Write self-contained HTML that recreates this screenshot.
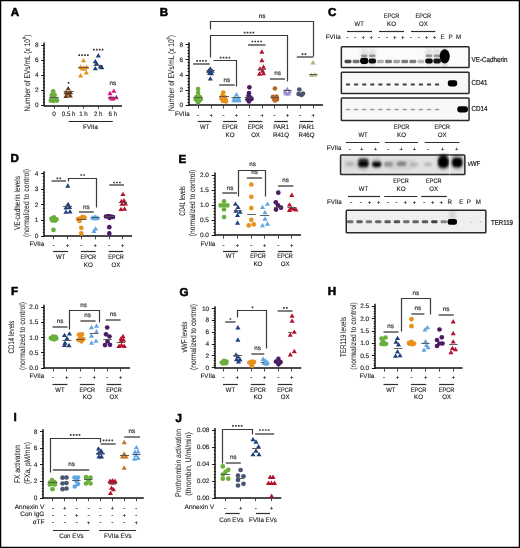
<!DOCTYPE html>
<html><head><meta charset="utf-8"><style>
html,body{margin:0;padding:0;background:#fff;width:520px;height:548px;overflow:hidden}
svg{display:block;font-family:"Liberation Sans", sans-serif}
text{opacity:0.999;text-rendering:geometricPrecision}
</style></head><body>
<svg width="520" height="548" viewBox="0 0 520 548" font-family='"Liberation Sans", sans-serif'>
<defs><filter id="bl" x="-50%" y="-50%" width="200%" height="200%"><feGaussianBlur stdDeviation="0.7"/></filter><filter id="bl2" x="-50%" y="-50%" width="200%" height="200%"><feGaussianBlur stdDeviation="1.4"/></filter><filter id="bl3" x="-50%" y="-50%" width="200%" height="200%"><feGaussianBlur stdDeviation="1.05"/></filter></defs>
<rect width="520" height="548" fill="#fff"/>
<text font-size="11.6" text-anchor="start" dominant-baseline="central" fill="#000" stroke="#000" stroke-width="0.55" font-weight="bold" x="0" y="0" transform="translate(10.70 12.55)" >A</text>
<line x1="44.00" y1="106.20" x2="44.00" y2="42.50" stroke="#111" stroke-width="1.5"/>
<line x1="41.20" y1="105.50" x2="44.50" y2="105.50" stroke="#111" stroke-width="1.0"/>
<text font-size="6.5" text-anchor="end" dominant-baseline="central" fill="#1a1a1a" stroke="#1a1a1a" stroke-width="0.13" x="0" y="0" transform="translate(38.50 105.90)" >0</text>
<line x1="41.20" y1="90.50" x2="44.50" y2="90.50" stroke="#111" stroke-width="1.0"/>
<text font-size="6.5" text-anchor="end" dominant-baseline="central" fill="#1a1a1a" stroke="#1a1a1a" stroke-width="0.13" x="0" y="0" transform="translate(38.50 90.77)" >2</text>
<line x1="41.20" y1="75.50" x2="44.50" y2="75.50" stroke="#111" stroke-width="1.0"/>
<text font-size="6.5" text-anchor="end" dominant-baseline="central" fill="#1a1a1a" stroke="#1a1a1a" stroke-width="0.13" x="0" y="0" transform="translate(38.50 75.65)" >4</text>
<line x1="41.20" y1="60.50" x2="44.50" y2="60.50" stroke="#111" stroke-width="1.0"/>
<text font-size="6.5" text-anchor="end" dominant-baseline="central" fill="#1a1a1a" stroke="#1a1a1a" stroke-width="0.13" x="0" y="0" transform="translate(38.50 60.52)" >6</text>
<line x1="41.20" y1="45.50" x2="44.50" y2="45.50" stroke="#111" stroke-width="1.0"/>
<text font-size="6.5" text-anchor="end" dominant-baseline="central" fill="#1a1a1a" stroke="#1a1a1a" stroke-width="0.13" x="0" y="0" transform="translate(38.50 45.40)" >8</text>
<line x1="42.90" y1="102.50" x2="44.50" y2="102.50" stroke="#111" stroke-width="0.8"/>
<line x1="42.90" y1="99.50" x2="44.50" y2="99.50" stroke="#111" stroke-width="0.8"/>
<line x1="42.90" y1="96.50" x2="44.50" y2="96.50" stroke="#111" stroke-width="0.8"/>
<line x1="42.90" y1="93.50" x2="44.50" y2="93.50" stroke="#111" stroke-width="0.8"/>
<line x1="42.90" y1="87.50" x2="44.50" y2="87.50" stroke="#111" stroke-width="0.8"/>
<line x1="42.90" y1="84.50" x2="44.50" y2="84.50" stroke="#111" stroke-width="0.8"/>
<line x1="42.90" y1="81.50" x2="44.50" y2="81.50" stroke="#111" stroke-width="0.8"/>
<line x1="42.90" y1="78.50" x2="44.50" y2="78.50" stroke="#111" stroke-width="0.8"/>
<line x1="42.90" y1="72.50" x2="44.50" y2="72.50" stroke="#111" stroke-width="0.8"/>
<line x1="42.90" y1="69.50" x2="44.50" y2="69.50" stroke="#111" stroke-width="0.8"/>
<line x1="42.90" y1="66.50" x2="44.50" y2="66.50" stroke="#111" stroke-width="0.8"/>
<line x1="42.90" y1="63.50" x2="44.50" y2="63.50" stroke="#111" stroke-width="0.8"/>
<line x1="42.90" y1="57.50" x2="44.50" y2="57.50" stroke="#111" stroke-width="0.8"/>
<line x1="42.90" y1="54.50" x2="44.50" y2="54.50" stroke="#111" stroke-width="0.8"/>
<line x1="42.90" y1="51.50" x2="44.50" y2="51.50" stroke="#111" stroke-width="0.8"/>
<line x1="42.90" y1="48.50" x2="44.50" y2="48.50" stroke="#111" stroke-width="0.8"/>
<line x1="44.00" y1="106.00" x2="122.00" y2="106.00" stroke="#111" stroke-width="1.4"/>
<line x1="54.50" y1="105.50" x2="54.50" y2="108.80" stroke="#333" stroke-width="0.9"/>
<line x1="68.50" y1="105.50" x2="68.50" y2="108.80" stroke="#333" stroke-width="0.9"/>
<line x1="83.50" y1="105.50" x2="83.50" y2="108.80" stroke="#333" stroke-width="0.9"/>
<line x1="98.50" y1="105.50" x2="98.50" y2="108.80" stroke="#333" stroke-width="0.9"/>
<line x1="112.50" y1="105.50" x2="112.50" y2="108.80" stroke="#333" stroke-width="0.9"/>
<text font-size="6.5" text-anchor="middle" dominant-baseline="central" fill="#1a1a1a" stroke="#1a1a1a" stroke-width="0.13" x="0" y="0" transform="translate(54.00 114.70)" >0</text>
<text font-size="6.5" text-anchor="middle" dominant-baseline="central" fill="#1a1a1a" stroke="#1a1a1a" stroke-width="0.13" x="0" y="0" transform="translate(68.60 114.70) scale(0.95 1)" >0.5 h</text>
<text font-size="6.5" text-anchor="middle" dominant-baseline="central" fill="#1a1a1a" stroke="#1a1a1a" stroke-width="0.13" x="0" y="0" transform="translate(83.50 114.70) scale(0.95 1)" >1 h</text>
<text font-size="6.5" text-anchor="middle" dominant-baseline="central" fill="#1a1a1a" stroke="#1a1a1a" stroke-width="0.13" x="0" y="0" transform="translate(98.20 114.70) scale(0.95 1)" >2 h</text>
<text font-size="6.5" text-anchor="middle" dominant-baseline="central" fill="#1a1a1a" stroke="#1a1a1a" stroke-width="0.13" x="0" y="0" transform="translate(112.80 114.70) scale(0.95 1)" >6 h</text>
<line x1="68.60" y1="121.50" x2="112.80" y2="121.50" stroke="#222" stroke-width="1.1"/>
<text font-size="6.5" text-anchor="middle" dominant-baseline="central" fill="#1a1a1a" stroke="#1a1a1a" stroke-width="0.13" x="0" y="0" transform="translate(90.50 127.30) scale(0.95 1)" >FVIIa</text>
<text font-size="8.2" text-anchor="middle" dominant-baseline="central" fill="#1e1e1e" stroke="#1e1e1e" stroke-width="0.06" x="0" y="0" transform="translate(27.30 73) rotate(-90) scale(0.8117225384777567 1)" >Number of EVs/mL (x 10<tspan dy="-2" font-size="5">8</tspan><tspan dy="2">)</tspan></text>
<circle cx="53.20" cy="91.30" r="2.35" fill="#6aaf3d"/>
<circle cx="51.80" cy="95.00" r="2.35" fill="#6aaf3d"/>
<circle cx="54.70" cy="95.00" r="2.35" fill="#6aaf3d"/>
<circle cx="51.50" cy="99.50" r="2.35" fill="#6aaf3d"/>
<circle cx="54.00" cy="99.50" r="2.35" fill="#6aaf3d"/>
<circle cx="56.50" cy="99.50" r="2.35" fill="#6aaf3d"/>
<circle cx="50.80" cy="100.60" r="2.35" fill="#6aaf3d"/>
<circle cx="53.50" cy="100.80" r="2.35" fill="#6aaf3d"/>
<circle cx="57.00" cy="100.60" r="2.35" fill="#6aaf3d"/>
<line x1="49.20" y1="97.50" x2="58.70" y2="97.50" stroke="#505050" stroke-width="0.9"/>
<path d="M68.20,85.99L70.75,90.37L65.65,90.37Z" fill="#6b3a10"/>
<path d="M66.00,89.89L68.55,94.27L63.45,94.27Z" fill="#6b3a10"/>
<path d="M70.60,89.89L73.15,94.27L68.05,94.27Z" fill="#6b3a10"/>
<path d="M68.20,91.09L70.75,95.47L65.65,95.47Z" fill="#6b3a10"/>
<path d="M66.00,93.59L68.55,97.97L63.45,97.97Z" fill="#6b3a10"/>
<path d="M70.30,93.19L72.85,97.57L67.75,97.57Z" fill="#6b3a10"/>
<line x1="63.60" y1="91.50" x2="73.70" y2="91.50" stroke="#505050" stroke-width="0.9"/>
<path d="M83.50,57.89L86.05,62.27L80.95,62.27Z" fill="#e8901e"/>
<path d="M80.60,64.59L83.15,68.97L78.05,68.97Z" fill="#e8901e"/>
<path d="M83.50,65.19L86.05,69.57L80.95,69.57Z" fill="#e8901e"/>
<path d="M86.50,64.59L89.05,68.97L83.95,68.97Z" fill="#e8901e"/>
<path d="M82.20,66.19L84.75,70.57L79.65,70.57Z" fill="#e8901e"/>
<path d="M84.80,66.19L87.35,70.57L82.25,70.57Z" fill="#e8901e"/>
<path d="M86.30,70.09L88.85,74.47L83.75,74.47Z" fill="#e8901e"/>
<path d="M80.60,73.09L83.15,77.47L78.05,77.47Z" fill="#e8901e"/>
<line x1="78.30" y1="67.50" x2="88.80" y2="67.50" stroke="#505050" stroke-width="0.9"/>
<path d="M98.30,53.09L100.85,57.47L95.75,57.47Z" fill="#1f3f7d"/>
<path d="M95.30,58.99L97.85,63.37L92.75,63.37Z" fill="#1f3f7d"/>
<path d="M96.60,60.99L99.15,65.37L94.05,65.37Z" fill="#1f3f7d"/>
<path d="M95.30,65.89L97.85,70.27L92.75,70.27Z" fill="#1f3f7d"/>
<path d="M100.20,64.19L102.75,68.57L97.65,68.57Z" fill="#1f3f7d"/>
<path d="M101.80,64.79L104.35,69.17L99.25,69.17Z" fill="#1f3f7d"/>
<line x1="93.40" y1="65.50" x2="102.90" y2="65.50" stroke="#505050" stroke-width="0.9"/>
<path d="M113.80,88.39L116.35,92.77L111.25,92.77Z" fill="#d6197f"/>
<path d="M110.00,90.79L112.55,95.17L107.45,95.17Z" fill="#d6197f"/>
<path d="M110.50,95.19L113.05,99.57L107.95,99.57Z" fill="#d6197f"/>
<path d="M113.20,95.79L115.75,100.17L110.65,100.17Z" fill="#d6197f"/>
<path d="M116.30,94.79L118.85,99.17L113.75,99.17Z" fill="#d6197f"/>
<path d="M112.00,96.19L114.55,100.57L109.45,100.57Z" fill="#d6197f"/>
<line x1="107.80" y1="97.50" x2="117.80" y2="97.50" stroke="#505050" stroke-width="0.9"/>
<rect x="67.75" y="81.95" width="1.7" height="1.7" rx="0.3" fill="#333"/>
<rect x="78.30" y="54.25" width="1.7" height="1.7" rx="0.3" fill="#333"/>
<rect x="81.20" y="54.25" width="1.7" height="1.7" rx="0.3" fill="#333"/>
<rect x="84.10" y="54.25" width="1.7" height="1.7" rx="0.3" fill="#333"/>
<rect x="87.00" y="54.25" width="1.7" height="1.7" rx="0.3" fill="#333"/>
<rect x="93.00" y="48.75" width="1.7" height="1.7" rx="0.3" fill="#333"/>
<rect x="95.90" y="48.75" width="1.7" height="1.7" rx="0.3" fill="#333"/>
<rect x="98.80" y="48.75" width="1.7" height="1.7" rx="0.3" fill="#333"/>
<rect x="101.70" y="48.75" width="1.7" height="1.7" rx="0.3" fill="#333"/>
<text font-size="6.3" text-anchor="middle" dominant-baseline="central" fill="#2a2a2a" stroke="#2a2a2a" stroke-width="0.16" x="0" y="0" transform="translate(112.80 83.50)" >ns</text>
<text font-size="11.6" text-anchor="start" dominant-baseline="central" fill="#000" stroke="#000" stroke-width="0.55" font-weight="bold" x="0" y="0" transform="translate(159.85 12.55)" >B</text>
<line x1="189.00" y1="105.90" x2="189.00" y2="42.30" stroke="#111" stroke-width="1.5"/>
<line x1="185.70" y1="105.50" x2="189.00" y2="105.50" stroke="#111" stroke-width="1.0"/>
<text font-size="6.5" text-anchor="end" dominant-baseline="central" fill="#1a1a1a" stroke="#1a1a1a" stroke-width="0.13" x="0" y="0" transform="translate(183.00 105.60)" >0</text>
<line x1="185.70" y1="90.50" x2="189.00" y2="90.50" stroke="#111" stroke-width="1.0"/>
<text font-size="6.5" text-anchor="end" dominant-baseline="central" fill="#1a1a1a" stroke="#1a1a1a" stroke-width="0.13" x="0" y="0" transform="translate(183.00 90.50)" >2</text>
<line x1="185.70" y1="75.50" x2="189.00" y2="75.50" stroke="#111" stroke-width="1.0"/>
<text font-size="6.5" text-anchor="end" dominant-baseline="central" fill="#1a1a1a" stroke="#1a1a1a" stroke-width="0.13" x="0" y="0" transform="translate(183.00 75.40)" >4</text>
<line x1="185.70" y1="59.50" x2="189.00" y2="59.50" stroke="#111" stroke-width="1.0"/>
<text font-size="6.5" text-anchor="end" dominant-baseline="central" fill="#1a1a1a" stroke="#1a1a1a" stroke-width="0.13" x="0" y="0" transform="translate(183.00 60.30)" >6</text>
<line x1="185.70" y1="44.50" x2="189.00" y2="44.50" stroke="#111" stroke-width="1.0"/>
<text font-size="6.5" text-anchor="end" dominant-baseline="central" fill="#1a1a1a" stroke="#1a1a1a" stroke-width="0.13" x="0" y="0" transform="translate(183.00 45.20)" >8</text>
<line x1="187.40" y1="102.50" x2="189.00" y2="102.50" stroke="#111" stroke-width="0.8"/>
<line x1="187.40" y1="99.50" x2="189.00" y2="99.50" stroke="#111" stroke-width="0.8"/>
<line x1="187.40" y1="96.50" x2="189.00" y2="96.50" stroke="#111" stroke-width="0.8"/>
<line x1="187.40" y1="93.50" x2="189.00" y2="93.50" stroke="#111" stroke-width="0.8"/>
<line x1="187.40" y1="87.50" x2="189.00" y2="87.50" stroke="#111" stroke-width="0.8"/>
<line x1="187.40" y1="84.50" x2="189.00" y2="84.50" stroke="#111" stroke-width="0.8"/>
<line x1="187.40" y1="81.50" x2="189.00" y2="81.50" stroke="#111" stroke-width="0.8"/>
<line x1="187.40" y1="78.50" x2="189.00" y2="78.50" stroke="#111" stroke-width="0.8"/>
<line x1="187.40" y1="71.50" x2="189.00" y2="71.50" stroke="#111" stroke-width="0.8"/>
<line x1="187.40" y1="68.50" x2="189.00" y2="68.50" stroke="#111" stroke-width="0.8"/>
<line x1="187.40" y1="65.50" x2="189.00" y2="65.50" stroke="#111" stroke-width="0.8"/>
<line x1="187.40" y1="62.50" x2="189.00" y2="62.50" stroke="#111" stroke-width="0.8"/>
<line x1="187.40" y1="56.50" x2="189.00" y2="56.50" stroke="#111" stroke-width="0.8"/>
<line x1="187.40" y1="53.50" x2="189.00" y2="53.50" stroke="#111" stroke-width="0.8"/>
<line x1="187.40" y1="50.50" x2="189.00" y2="50.50" stroke="#111" stroke-width="0.8"/>
<line x1="187.40" y1="47.50" x2="189.00" y2="47.50" stroke="#111" stroke-width="0.8"/>
<line x1="188.50" y1="105.00" x2="323.00" y2="105.00" stroke="#111" stroke-width="1.4"/>
<line x1="198.50" y1="105.20" x2="198.50" y2="108.50" stroke="#333" stroke-width="0.9"/>
<line x1="211.50" y1="105.20" x2="211.50" y2="108.50" stroke="#333" stroke-width="0.9"/>
<line x1="223.50" y1="105.20" x2="223.50" y2="108.50" stroke="#333" stroke-width="0.9"/>
<line x1="236.50" y1="105.20" x2="236.50" y2="108.50" stroke="#333" stroke-width="0.9"/>
<line x1="249.50" y1="105.20" x2="249.50" y2="108.50" stroke="#333" stroke-width="0.9"/>
<line x1="262.50" y1="105.20" x2="262.50" y2="108.50" stroke="#333" stroke-width="0.9"/>
<line x1="274.50" y1="105.20" x2="274.50" y2="108.50" stroke="#333" stroke-width="0.9"/>
<line x1="287.50" y1="105.20" x2="287.50" y2="108.50" stroke="#333" stroke-width="0.9"/>
<line x1="300.50" y1="105.20" x2="300.50" y2="108.50" stroke="#333" stroke-width="0.9"/>
<line x1="313.50" y1="105.20" x2="313.50" y2="108.50" stroke="#333" stroke-width="0.9"/>
<text font-size="6.5" text-anchor="end" dominant-baseline="central" fill="#1a1a1a" stroke="#1a1a1a" stroke-width="0.13" x="0" y="0" transform="translate(189.70 114.40) scale(0.95 1)" >FVIIa</text>
<line x1="197.10" y1="115.50" x2="198.90" y2="115.50" stroke="#444" stroke-width="0.8"/>
<line x1="209.60" y1="115.50" x2="212.40" y2="115.50" stroke="#444" stroke-width="0.8"/>
<line x1="211.50" y1="114.00" x2="211.50" y2="116.80" stroke="#444" stroke-width="0.8"/>
<line x1="222.60" y1="115.50" x2="224.40" y2="115.50" stroke="#444" stroke-width="0.8"/>
<line x1="235.10" y1="115.50" x2="237.90" y2="115.50" stroke="#444" stroke-width="0.8"/>
<line x1="236.50" y1="114.00" x2="236.50" y2="116.80" stroke="#444" stroke-width="0.8"/>
<line x1="248.10" y1="115.50" x2="249.90" y2="115.50" stroke="#444" stroke-width="0.8"/>
<line x1="260.60" y1="115.50" x2="263.40" y2="115.50" stroke="#444" stroke-width="0.8"/>
<line x1="262.50" y1="114.00" x2="262.50" y2="116.80" stroke="#444" stroke-width="0.8"/>
<line x1="273.60" y1="115.50" x2="275.40" y2="115.50" stroke="#444" stroke-width="0.8"/>
<line x1="286.10" y1="115.50" x2="288.90" y2="115.50" stroke="#444" stroke-width="0.8"/>
<line x1="287.50" y1="114.00" x2="287.50" y2="116.80" stroke="#444" stroke-width="0.8"/>
<line x1="299.10" y1="115.50" x2="300.90" y2="115.50" stroke="#444" stroke-width="0.8"/>
<line x1="311.60" y1="115.50" x2="314.40" y2="115.50" stroke="#444" stroke-width="0.8"/>
<line x1="313.50" y1="114.00" x2="313.50" y2="116.80" stroke="#444" stroke-width="0.8"/>
<text font-size="8.2" text-anchor="middle" dominant-baseline="central" fill="#1e1e1e" stroke="#1e1e1e" stroke-width="0.06" x="0" y="0" transform="translate(171.40 73) rotate(-90) scale(0.801180687328695 1)" >Number of EVs/mL (x 10<tspan dy="-2" font-size="5">8</tspan><tspan dy="2">)</tspan></text>
<line x1="197.70" y1="121.50" x2="211.30" y2="121.50" stroke="#2e2e2e" stroke-width="1.2"/>
<text font-size="6.5" text-anchor="middle" dominant-baseline="central" fill="#1a1a1a" stroke="#1a1a1a" stroke-width="0.13" x="0" y="0" transform="translate(204.50 127.40) scale(0.91 1)" >WT</text>
<line x1="223.20" y1="121.50" x2="236.80" y2="121.50" stroke="#2e2e2e" stroke-width="1.2"/>
<text font-size="6.5" text-anchor="middle" dominant-baseline="central" fill="#1a1a1a" stroke="#1a1a1a" stroke-width="0.13" x="0" y="0" transform="translate(230.00 127.40) scale(0.86 1)" >EPCR</text>
<text font-size="6.5" text-anchor="middle" dominant-baseline="central" fill="#1a1a1a" stroke="#1a1a1a" stroke-width="0.13" x="0" y="0" transform="translate(230.00 135.70) scale(0.96 1)" >KO</text>
<line x1="248.70" y1="121.50" x2="262.30" y2="121.50" stroke="#2e2e2e" stroke-width="1.2"/>
<text font-size="6.5" text-anchor="middle" dominant-baseline="central" fill="#1a1a1a" stroke="#1a1a1a" stroke-width="0.13" x="0" y="0" transform="translate(255.50 127.40) scale(0.86 1)" >EPCR</text>
<text font-size="6.5" text-anchor="middle" dominant-baseline="central" fill="#1a1a1a" stroke="#1a1a1a" stroke-width="0.13" x="0" y="0" transform="translate(255.50 135.70) scale(0.93 1)" >OX</text>
<line x1="274.20" y1="121.50" x2="287.80" y2="121.50" stroke="#2e2e2e" stroke-width="1.2"/>
<text font-size="6.5" text-anchor="middle" dominant-baseline="central" fill="#1a1a1a" stroke="#1a1a1a" stroke-width="0.13" x="0" y="0" transform="translate(281.00 127.40) scale(0.95 1)" >PAR1</text>
<text font-size="6.5" text-anchor="middle" dominant-baseline="central" fill="#1a1a1a" stroke="#1a1a1a" stroke-width="0.13" x="0" y="0" transform="translate(281.00 135.70) scale(0.95 1)" >R41Q</text>
<line x1="299.70" y1="121.50" x2="313.30" y2="121.50" stroke="#2e2e2e" stroke-width="1.2"/>
<text font-size="6.5" text-anchor="middle" dominant-baseline="central" fill="#1a1a1a" stroke="#1a1a1a" stroke-width="0.13" x="0" y="0" transform="translate(306.50 127.40) scale(0.95 1)" >PAR1</text>
<text font-size="6.5" text-anchor="middle" dominant-baseline="central" fill="#1a1a1a" stroke="#1a1a1a" stroke-width="0.13" x="0" y="0" transform="translate(306.50 135.70) scale(0.95 1)" >R46Q</text>
<polyline points="210.50,29.50 210.50,21.50 313.50,21.50 313.50,56.50" fill="none" stroke="#3a3a3a" stroke-width="1.2"/>
<text font-size="6.3" text-anchor="middle" dominant-baseline="central" fill="#2a2a2a" stroke="#2a2a2a" stroke-width="0.16" x="0" y="0" transform="translate(262.00 16.00)" >ns</text>
<polyline points="210.50,57.50 210.50,35.50 287.50,35.50 287.50,81.50" fill="none" stroke="#3a3a3a" stroke-width="1.2"/>
<rect x="243.80" y="31.75" width="1.7" height="1.7" rx="0.3" fill="#333"/>
<rect x="246.70" y="31.75" width="1.7" height="1.7" rx="0.3" fill="#333"/>
<rect x="249.60" y="31.75" width="1.7" height="1.7" rx="0.3" fill="#333"/>
<rect x="252.50" y="31.75" width="1.7" height="1.7" rx="0.3" fill="#333"/>
<line x1="193.00" y1="64.00" x2="209.80" y2="64.00" stroke="#4a4a4a" stroke-width="1.4"/>
<rect x="196.40" y="59.95" width="1.7" height="1.7" rx="0.3" fill="#333"/>
<rect x="199.30" y="59.95" width="1.7" height="1.7" rx="0.3" fill="#333"/>
<rect x="202.20" y="59.95" width="1.7" height="1.7" rx="0.3" fill="#333"/>
<rect x="205.10" y="59.95" width="1.7" height="1.7" rx="0.3" fill="#333"/>
<polyline points="213.50,60.50 236.50,60.50 236.50,86.50" fill="none" stroke="#3a3a3a" stroke-width="1.2"/>
<rect x="219.80" y="56.75" width="1.7" height="1.7" rx="0.3" fill="#333"/>
<rect x="222.70" y="56.75" width="1.7" height="1.7" rx="0.3" fill="#333"/>
<rect x="225.60" y="56.75" width="1.7" height="1.7" rx="0.3" fill="#333"/>
<rect x="228.50" y="56.75" width="1.7" height="1.7" rx="0.3" fill="#333"/>
<line x1="219.20" y1="85.00" x2="234.80" y2="85.00" stroke="#4a4a4a" stroke-width="1.4"/>
<text font-size="6.3" text-anchor="middle" dominant-baseline="central" fill="#2a2a2a" stroke="#2a2a2a" stroke-width="0.16" x="0" y="0" transform="translate(226.80 80.00)" >ns</text>
<line x1="248.00" y1="45.00" x2="265.50" y2="45.00" stroke="#4a4a4a" stroke-width="1.4"/>
<rect x="251.50" y="40.65" width="1.7" height="1.7" rx="0.3" fill="#333"/>
<rect x="254.40" y="40.65" width="1.7" height="1.7" rx="0.3" fill="#333"/>
<rect x="257.30" y="40.65" width="1.7" height="1.7" rx="0.3" fill="#333"/>
<rect x="260.20" y="40.65" width="1.7" height="1.7" rx="0.3" fill="#333"/>
<line x1="269.90" y1="79.00" x2="285.00" y2="79.00" stroke="#4a4a4a" stroke-width="1.4"/>
<text font-size="6.3" text-anchor="middle" dominant-baseline="central" fill="#2a2a2a" stroke="#2a2a2a" stroke-width="0.16" x="0" y="0" transform="translate(277.50 73.40)" >ns</text>
<line x1="296.80" y1="57.00" x2="313.40" y2="57.00" stroke="#4a4a4a" stroke-width="1.4"/>
<rect x="301.70" y="53.35" width="1.7" height="1.7" rx="0.3" fill="#333"/>
<rect x="304.60" y="53.35" width="1.7" height="1.7" rx="0.3" fill="#333"/>
<circle cx="198.10" cy="89.00" r="2.35" fill="#6aaf3d"/>
<circle cx="198.10" cy="93.00" r="2.35" fill="#6aaf3d"/>
<circle cx="196.30" cy="97.00" r="2.35" fill="#6aaf3d"/>
<circle cx="200.00" cy="97.00" r="2.35" fill="#6aaf3d"/>
<circle cx="195.60" cy="99.00" r="2.35" fill="#6aaf3d"/>
<circle cx="200.80" cy="99.20" r="2.35" fill="#6aaf3d"/>
<circle cx="197.00" cy="100.30" r="2.35" fill="#6aaf3d"/>
<circle cx="199.50" cy="100.60" r="2.35" fill="#6aaf3d"/>
<circle cx="198.00" cy="102.50" r="2.35" fill="#6aaf3d"/>
<line x1="193.50" y1="97.50" x2="202.30" y2="97.50" stroke="#505050" stroke-width="0.9"/>
<path d="M210.30,66.19L212.85,70.57L207.75,70.57Z" fill="#1f3f7d"/>
<path d="M208.50,68.39L211.05,72.77L205.95,72.77Z" fill="#1f3f7d"/>
<path d="M212.00,68.39L214.55,72.77L209.45,72.77Z" fill="#1f3f7d"/>
<path d="M209.50,70.59L212.05,74.97L206.95,74.97Z" fill="#1f3f7d"/>
<path d="M211.50,70.79L214.05,75.17L208.95,75.17Z" fill="#1f3f7d"/>
<path d="M210.30,76.19L212.85,80.57L207.75,80.57Z" fill="#1f3f7d"/>
<line x1="206.50" y1="70.50" x2="215.00" y2="70.50" stroke="#505050" stroke-width="0.9"/>
<circle cx="223.30" cy="92.50" r="2.35" fill="#e8901e"/>
<circle cx="222.50" cy="95.50" r="2.35" fill="#e8901e"/>
<circle cx="224.50" cy="97.00" r="2.35" fill="#e8901e"/>
<circle cx="221.50" cy="98.50" r="2.35" fill="#e8901e"/>
<circle cx="225.50" cy="99.00" r="2.35" fill="#e8901e"/>
<circle cx="223.00" cy="101.00" r="2.35" fill="#e8901e"/>
<circle cx="226.00" cy="101.50" r="2.35" fill="#e8901e"/>
<line x1="219.00" y1="96.50" x2="229.00" y2="96.50" stroke="#505050" stroke-width="0.9"/>
<path d="M236.50,92.09L239.05,96.47L233.95,96.47Z" fill="#5fa6e2"/>
<path d="M234.50,95.39L237.05,99.77L231.95,99.77Z" fill="#5fa6e2"/>
<path d="M238.50,95.39L241.05,99.77L235.95,99.77Z" fill="#5fa6e2"/>
<path d="M233.70,97.89L236.25,102.27L231.15,102.27Z" fill="#5fa6e2"/>
<path d="M236.50,97.89L239.05,102.27L233.95,102.27Z" fill="#5fa6e2"/>
<path d="M239.30,97.89L241.85,102.27L236.75,102.27Z" fill="#5fa6e2"/>
<line x1="231.50" y1="97.50" x2="241.00" y2="97.50" stroke="#505050" stroke-width="0.9"/>
<circle cx="249.40" cy="87.30" r="2.35" fill="#4a1c63"/>
<circle cx="249.00" cy="93.00" r="2.35" fill="#4a1c63"/>
<circle cx="248.50" cy="96.00" r="2.35" fill="#4a1c63"/>
<circle cx="250.50" cy="97.50" r="2.35" fill="#4a1c63"/>
<circle cx="247.50" cy="99.50" r="2.35" fill="#4a1c63"/>
<circle cx="251.50" cy="99.00" r="2.35" fill="#4a1c63"/>
<circle cx="249.00" cy="101.50" r="2.35" fill="#4a1c63"/>
<line x1="244.60" y1="97.50" x2="253.50" y2="97.50" stroke="#505050" stroke-width="0.9"/>
<path d="M261.90,49.29L264.45,53.67L259.35,53.67Z" fill="#b3122e"/>
<path d="M261.90,57.79L264.45,62.17L259.35,62.17Z" fill="#b3122e"/>
<path d="M263.50,64.49L266.05,68.87L260.95,68.87Z" fill="#b3122e"/>
<path d="M260.00,66.19L262.55,70.57L257.45,70.57Z" fill="#b3122e"/>
<path d="M262.50,68.29L265.05,72.67L259.95,72.67Z" fill="#b3122e"/>
<path d="M259.50,71.29L262.05,75.67L256.95,75.67Z" fill="#b3122e"/>
<path d="M263.50,70.89L266.05,75.27L260.95,75.27Z" fill="#b3122e"/>
<line x1="257.80" y1="69.50" x2="266.00" y2="69.50" stroke="#505050" stroke-width="0.9"/>
<circle cx="274.90" cy="88.50" r="2.35" fill="#b86a22"/>
<circle cx="273.00" cy="96.80" r="2.35" fill="#b86a22"/>
<circle cx="276.50" cy="96.50" r="2.35" fill="#b86a22"/>
<circle cx="274.00" cy="99.00" r="2.35" fill="#b86a22"/>
<circle cx="277.00" cy="99.50" r="2.35" fill="#b86a22"/>
<circle cx="275.00" cy="100.50" r="2.35" fill="#b86a22"/>
<line x1="270.50" y1="97.50" x2="279.10" y2="97.50" stroke="#505050" stroke-width="0.9"/>
<path d="M287.20,86.69L289.75,91.07L284.65,91.07Z" fill="#9a8fd6"/>
<path d="M285.00,89.09L287.55,93.47L282.45,93.47Z" fill="#9a8fd6"/>
<path d="M289.50,89.09L292.05,93.47L286.95,93.47Z" fill="#9a8fd6"/>
<path d="M286.00,91.09L288.55,95.47L283.45,95.47Z" fill="#9a8fd6"/>
<path d="M288.50,91.09L291.05,95.47L285.95,95.47Z" fill="#9a8fd6"/>
<line x1="283.40" y1="90.50" x2="291.80" y2="90.50" stroke="#505050" stroke-width="0.9"/>
<circle cx="299.30" cy="89.50" r="2.35" fill="#4a5570"/>
<circle cx="298.60" cy="94.00" r="2.35" fill="#4a5570"/>
<circle cx="301.50" cy="94.90" r="2.35" fill="#4a5570"/>
<circle cx="303.00" cy="93.60" r="2.35" fill="#4a5570"/>
<path d="M313.00,60.09L315.55,64.47L310.45,64.47Z" fill="#aab872"/>
<path d="M311.50,72.49L314.05,76.87L308.95,76.87Z" fill="#aab872"/>
<path d="M315.00,72.19L317.55,76.57L312.45,76.57Z" fill="#aab872"/>
<line x1="309.20" y1="74.50" x2="317.50" y2="74.50" stroke="#505050" stroke-width="0.9"/>
<text font-size="11.6" text-anchor="start" dominant-baseline="central" fill="#000" stroke="#000" stroke-width="0.55" font-weight="bold" x="0" y="0" transform="translate(328.10 12.80)" >C</text>
<text font-size="6.5" text-anchor="middle" dominant-baseline="central" fill="#1a1a1a" stroke="#1a1a1a" stroke-width="0.13" x="0" y="0" transform="translate(359.20 24.20) scale(0.91 1)" >WT</text>
<text font-size="6.5" text-anchor="middle" dominant-baseline="central" fill="#1a1a1a" stroke="#1a1a1a" stroke-width="0.13" x="0" y="0" transform="translate(391.50 16.60) scale(0.86 1)" >EPCR</text>
<text font-size="6.5" text-anchor="middle" dominant-baseline="central" fill="#1a1a1a" stroke="#1a1a1a" stroke-width="0.13" x="0" y="0" transform="translate(391.50 24.20) scale(0.96 1)" >KO</text>
<text font-size="6.5" text-anchor="middle" dominant-baseline="central" fill="#1a1a1a" stroke="#1a1a1a" stroke-width="0.13" x="0" y="0" transform="translate(423.30 16.60) scale(0.86 1)" >EPCR</text>
<text font-size="6.5" text-anchor="middle" dominant-baseline="central" fill="#1a1a1a" stroke="#1a1a1a" stroke-width="0.13" x="0" y="0" transform="translate(423.30 24.20) scale(0.93 1)" >OX</text>
<line x1="347.00" y1="31.50" x2="372.00" y2="31.50" stroke="#2e2e2e" stroke-width="1.2"/>
<line x1="379.00" y1="31.50" x2="404.00" y2="31.50" stroke="#2e2e2e" stroke-width="1.2"/>
<line x1="411.00" y1="31.50" x2="435.40" y2="31.50" stroke="#2e2e2e" stroke-width="1.2"/>
<text font-size="6.5" text-anchor="end" dominant-baseline="central" fill="#1a1a1a" stroke="#1a1a1a" stroke-width="0.13" x="0" y="0" transform="translate(340.60 37.10) scale(0.95 1)" >FVIIa</text>
<line x1="346.40" y1="37.50" x2="348.20" y2="37.50" stroke="#444" stroke-width="0.8"/>
<line x1="354.34" y1="37.50" x2="356.14" y2="37.50" stroke="#444" stroke-width="0.8"/>
<line x1="361.78" y1="37.50" x2="364.58" y2="37.50" stroke="#444" stroke-width="0.8"/>
<line x1="363.50" y1="36.10" x2="363.50" y2="38.90" stroke="#444" stroke-width="0.8"/>
<line x1="369.72" y1="37.50" x2="372.52" y2="37.50" stroke="#444" stroke-width="0.8"/>
<line x1="371.50" y1="36.10" x2="371.50" y2="38.90" stroke="#444" stroke-width="0.8"/>
<line x1="378.16" y1="37.50" x2="379.96" y2="37.50" stroke="#444" stroke-width="0.8"/>
<line x1="386.10" y1="37.50" x2="387.90" y2="37.50" stroke="#444" stroke-width="0.8"/>
<line x1="393.54" y1="37.50" x2="396.34" y2="37.50" stroke="#444" stroke-width="0.8"/>
<line x1="394.50" y1="36.10" x2="394.50" y2="38.90" stroke="#444" stroke-width="0.8"/>
<line x1="401.48" y1="37.50" x2="404.28" y2="37.50" stroke="#444" stroke-width="0.8"/>
<line x1="402.50" y1="36.10" x2="402.50" y2="38.90" stroke="#444" stroke-width="0.8"/>
<line x1="409.92" y1="37.50" x2="411.72" y2="37.50" stroke="#444" stroke-width="0.8"/>
<line x1="417.86" y1="37.50" x2="419.66" y2="37.50" stroke="#444" stroke-width="0.8"/>
<line x1="425.30" y1="37.50" x2="428.10" y2="37.50" stroke="#444" stroke-width="0.8"/>
<line x1="426.50" y1="36.10" x2="426.50" y2="38.90" stroke="#444" stroke-width="0.8"/>
<line x1="433.24" y1="37.50" x2="436.04" y2="37.50" stroke="#444" stroke-width="0.8"/>
<line x1="434.50" y1="36.10" x2="434.50" y2="38.90" stroke="#444" stroke-width="0.8"/>
<text font-size="6.5" text-anchor="middle" dominant-baseline="central" fill="#1a1a1a" stroke="#1a1a1a" stroke-width="0.13" x="0" y="0" transform="translate(442.58 37.50) scale(0.95 1)" >E</text>
<text font-size="6.5" text-anchor="middle" dominant-baseline="central" fill="#1a1a1a" stroke="#1a1a1a" stroke-width="0.13" x="0" y="0" transform="translate(450.52 37.50) scale(0.95 1)" >P</text>
<text font-size="6.5" text-anchor="middle" dominant-baseline="central" fill="#1a1a1a" stroke="#1a1a1a" stroke-width="0.13" x="0" y="0" transform="translate(458.46 37.50) scale(0.95 1)" >M</text>
<rect x="341.35" y="46.65" width="127.70" height="20.90" fill="#fbfbfb" stroke="#2a2a2a" stroke-width="1.5" rx="0.8"/>
<rect x="344.50" y="59.80" width="7.00" height="3.40" rx="1.36" fill="#000" fill-opacity="0.7" filter="url(#bl)"/>
<rect x="352.60" y="59.80" width="7.00" height="3.40" rx="1.36" fill="#000" fill-opacity="0.55" filter="url(#bl)"/>
<rect x="360.70" y="48.50" width="7.00" height="17.00" rx="2.80" fill="#000" fill-opacity="0.1" filter="url(#bl2)"/>
<rect x="360.95" y="54.50" width="6.50" height="2.60" rx="1.04" fill="#000" fill-opacity="0.35" filter="url(#bl)"/>
<rect x="360.50" y="58.50" width="7.40" height="5.00" rx="2.00" fill="#000" fill-opacity="1.0" filter="url(#bl)"/>
<rect x="368.80" y="48.50" width="7.00" height="17.00" rx="2.80" fill="#000" fill-opacity="0.1" filter="url(#bl2)"/>
<rect x="369.05" y="54.50" width="6.50" height="2.60" rx="1.04" fill="#000" fill-opacity="0.35" filter="url(#bl)"/>
<rect x="368.60" y="58.50" width="7.40" height="5.00" rx="2.00" fill="#000" fill-opacity="0.95" filter="url(#bl)"/>
<rect x="376.90" y="59.80" width="7.00" height="3.40" rx="1.36" fill="#000" fill-opacity="0.3" filter="url(#bl)"/>
<rect x="385.00" y="59.80" width="7.00" height="3.40" rx="1.36" fill="#000" fill-opacity="0.5" filter="url(#bl)"/>
<rect x="393.10" y="59.80" width="7.00" height="3.40" rx="1.36" fill="#000" fill-opacity="0.35" filter="url(#bl)"/>
<rect x="401.20" y="59.80" width="7.00" height="3.40" rx="1.36" fill="#000" fill-opacity="0.5" filter="url(#bl)"/>
<rect x="409.30" y="59.80" width="7.00" height="3.40" rx="1.36" fill="#000" fill-opacity="0.5" filter="url(#bl)"/>
<rect x="417.40" y="59.80" width="7.00" height="3.40" rx="1.36" fill="#000" fill-opacity="0.25" filter="url(#bl)"/>
<rect x="425.50" y="48.50" width="7.00" height="17.00" rx="2.80" fill="#000" fill-opacity="0.1" filter="url(#bl2)"/>
<rect x="425.75" y="54.50" width="6.50" height="2.60" rx="1.04" fill="#000" fill-opacity="0.35" filter="url(#bl)"/>
<rect x="425.30" y="58.50" width="7.40" height="5.00" rx="2.00" fill="#000" fill-opacity="0.95" filter="url(#bl)"/>
<rect x="433.60" y="48.50" width="7.00" height="17.00" rx="2.80" fill="#000" fill-opacity="0.1" filter="url(#bl2)"/>
<rect x="433.85" y="54.50" width="6.50" height="2.60" rx="1.04" fill="#000" fill-opacity="0.35" filter="url(#bl)"/>
<rect x="433.40" y="58.50" width="7.40" height="5.00" rx="2.00" fill="#000" fill-opacity="0.9" filter="url(#bl)"/>
<rect x="360.20" y="57.70" width="8.00" height="6.20" rx="2.48" fill="#000" fill-opacity="1.0" filter="url(#bl)"/>
<rect x="442.20" y="47.00" width="5.00" height="20.00" rx="2.00" fill="#000" fill-opacity="0.15" filter="url(#bl2)"/>
<ellipse cx="444.7" cy="56.4" rx="5.0" ry="7.2" fill="#000" filter="url(#bl)"/>
<ellipse cx="444.7" cy="56.4" rx="4.3" ry="6.2" fill="#000"/>
<rect x="341.35" y="72.15" width="127.70" height="21.40" fill="#f8f8f8" stroke="#2a2a2a" stroke-width="1.5" rx="0.8"/>
<rect x="345.90" y="83.60" width="4.20" height="1.80" rx="0.72" fill="#000" fill-opacity="0.75" filter="url(#bl)"/>
<rect x="354.00" y="83.60" width="4.20" height="1.80" rx="0.72" fill="#000" fill-opacity="0.75" filter="url(#bl)"/>
<rect x="362.10" y="83.60" width="4.20" height="1.80" rx="0.72" fill="#000" fill-opacity="0.75" filter="url(#bl)"/>
<rect x="370.20" y="83.60" width="4.20" height="1.80" rx="0.72" fill="#000" fill-opacity="0.75" filter="url(#bl)"/>
<rect x="378.30" y="83.60" width="4.20" height="1.80" rx="0.72" fill="#000" fill-opacity="0.75" filter="url(#bl)"/>
<rect x="386.40" y="83.60" width="4.20" height="1.80" rx="0.72" fill="#000" fill-opacity="0.75" filter="url(#bl)"/>
<rect x="394.50" y="83.60" width="4.20" height="1.80" rx="0.72" fill="#000" fill-opacity="0.75" filter="url(#bl)"/>
<rect x="402.60" y="83.60" width="4.20" height="1.80" rx="0.72" fill="#000" fill-opacity="0.75" filter="url(#bl)"/>
<rect x="410.70" y="83.60" width="4.20" height="1.80" rx="0.72" fill="#000" fill-opacity="0.75" filter="url(#bl)"/>
<rect x="418.80" y="83.60" width="4.20" height="1.80" rx="0.72" fill="#000" fill-opacity="0.75" filter="url(#bl)"/>
<rect x="426.90" y="83.60" width="4.20" height="1.80" rx="0.72" fill="#000" fill-opacity="0.75" filter="url(#bl)"/>
<rect x="435.00" y="83.60" width="4.20" height="1.80" rx="0.72" fill="#000" fill-opacity="0.75" filter="url(#bl)"/>
<rect x="447.80" y="80.20" width="9.40" height="6.20" rx="2.48" fill="#000" fill-opacity="1.0" filter="url(#bl)"/>
<rect x="448.40" y="80.80" width="8.20" height="5.00" rx="2.00" fill="#000" fill-opacity="1.0" filter="url(#bl)"/>
<rect x="341.35" y="98.05" width="127.70" height="22.40" fill="#f8f8f8" stroke="#2a2a2a" stroke-width="1.5" rx="0.8"/>
<rect x="345.80" y="108.85" width="4.40" height="1.50" rx="0.60" fill="#000" fill-opacity="0.38" filter="url(#bl)"/>
<rect x="353.90" y="108.85" width="4.40" height="1.50" rx="0.60" fill="#000" fill-opacity="0.38" filter="url(#bl)"/>
<rect x="362.00" y="108.85" width="4.40" height="1.50" rx="0.60" fill="#000" fill-opacity="0.38" filter="url(#bl)"/>
<rect x="370.10" y="108.85" width="4.40" height="1.50" rx="0.60" fill="#000" fill-opacity="0.38" filter="url(#bl)"/>
<rect x="378.20" y="108.85" width="4.40" height="1.50" rx="0.60" fill="#000" fill-opacity="0.38" filter="url(#bl)"/>
<rect x="386.30" y="108.85" width="4.40" height="1.50" rx="0.60" fill="#000" fill-opacity="0.38" filter="url(#bl)"/>
<rect x="394.40" y="108.85" width="4.40" height="1.50" rx="0.60" fill="#000" fill-opacity="0.38" filter="url(#bl)"/>
<rect x="402.50" y="108.85" width="4.40" height="1.50" rx="0.60" fill="#000" fill-opacity="0.38" filter="url(#bl)"/>
<rect x="410.60" y="108.85" width="4.40" height="1.50" rx="0.60" fill="#000" fill-opacity="0.38" filter="url(#bl)"/>
<rect x="418.70" y="108.85" width="4.40" height="1.50" rx="0.60" fill="#000" fill-opacity="0.38" filter="url(#bl)"/>
<rect x="426.80" y="108.85" width="4.40" height="1.50" rx="0.60" fill="#000" fill-opacity="0.38" filter="url(#bl)"/>
<rect x="434.90" y="108.85" width="4.40" height="1.50" rx="0.60" fill="#000" fill-opacity="0.38" filter="url(#bl)"/>
<rect x="457.30" y="106.30" width="10.60" height="6.20" rx="2.48" fill="#000" fill-opacity="1.0" filter="url(#bl)"/>
<rect x="457.90" y="106.90" width="9.40" height="5.00" rx="2.00" fill="#000" fill-opacity="1.0" filter="url(#bl)"/>
<text font-size="7.2" text-anchor="start" dominant-baseline="central" fill="#1a1a1a" stroke="#1a1a1a" stroke-width="0.22" x="471.50" y="59.20" textLength="36" lengthAdjust="spacingAndGlyphs" >VE-Cadherin</text>
<text font-size="7.2" text-anchor="start" dominant-baseline="central" fill="#1a1a1a" stroke="#1a1a1a" stroke-width="0.22" x="471.50" y="82.30" textLength="16" lengthAdjust="spacingAndGlyphs" >CD41</text>
<text font-size="7.2" text-anchor="start" dominant-baseline="central" fill="#1a1a1a" stroke="#1a1a1a" stroke-width="0.22" x="471.50" y="108.60" textLength="16" lengthAdjust="spacingAndGlyphs" >CD14</text>
<text font-size="6.5" text-anchor="middle" dominant-baseline="central" fill="#1a1a1a" stroke="#1a1a1a" stroke-width="0.13" x="0" y="0" transform="translate(363.00 135.60) scale(0.91 1)" >WT</text>
<text font-size="6.5" text-anchor="middle" dominant-baseline="central" fill="#1a1a1a" stroke="#1a1a1a" stroke-width="0.13" x="0" y="0" transform="translate(401.50 127.90) scale(0.86 1)" >EPCR</text>
<text font-size="6.5" text-anchor="middle" dominant-baseline="central" fill="#1a1a1a" stroke="#1a1a1a" stroke-width="0.13" x="0" y="0" transform="translate(401.50 135.60) scale(0.96 1)" >KO</text>
<text font-size="6.5" text-anchor="middle" dominant-baseline="central" fill="#1a1a1a" stroke="#1a1a1a" stroke-width="0.13" x="0" y="0" transform="translate(442.20 127.90) scale(0.86 1)" >EPCR</text>
<text font-size="6.5" text-anchor="middle" dominant-baseline="central" fill="#1a1a1a" stroke="#1a1a1a" stroke-width="0.13" x="0" y="0" transform="translate(442.20 135.60) scale(0.93 1)" >OX</text>
<line x1="345.80" y1="142.50" x2="379.50" y2="142.50" stroke="#2e2e2e" stroke-width="1.2"/>
<line x1="384.80" y1="142.50" x2="418.00" y2="142.50" stroke="#2e2e2e" stroke-width="1.2"/>
<line x1="424.70" y1="142.50" x2="459.50" y2="142.50" stroke="#2e2e2e" stroke-width="1.2"/>
<text font-size="6.5" text-anchor="end" dominant-baseline="central" fill="#1a1a1a" stroke="#1a1a1a" stroke-width="0.13" x="0" y="0" transform="translate(341.40 148.60) scale(0.95 1)" >FVIIa</text>
<line x1="348.90" y1="149.50" x2="350.70" y2="149.50" stroke="#444" stroke-width="0.8"/>
<line x1="360.50" y1="149.50" x2="363.30" y2="149.50" stroke="#444" stroke-width="0.8"/>
<line x1="361.50" y1="147.60" x2="361.50" y2="150.40" stroke="#444" stroke-width="0.8"/>
<line x1="374.00" y1="149.50" x2="376.80" y2="149.50" stroke="#444" stroke-width="0.8"/>
<line x1="375.50" y1="147.60" x2="375.50" y2="150.40" stroke="#444" stroke-width="0.8"/>
<line x1="387.40" y1="149.50" x2="389.20" y2="149.50" stroke="#444" stroke-width="0.8"/>
<line x1="399.60" y1="149.50" x2="402.40" y2="149.50" stroke="#444" stroke-width="0.8"/>
<line x1="401.50" y1="147.60" x2="401.50" y2="150.40" stroke="#444" stroke-width="0.8"/>
<line x1="413.00" y1="149.50" x2="415.80" y2="149.50" stroke="#444" stroke-width="0.8"/>
<line x1="414.50" y1="147.60" x2="414.50" y2="150.40" stroke="#444" stroke-width="0.8"/>
<line x1="427.00" y1="149.50" x2="428.80" y2="149.50" stroke="#444" stroke-width="0.8"/>
<line x1="441.30" y1="149.50" x2="444.10" y2="149.50" stroke="#444" stroke-width="0.8"/>
<line x1="442.50" y1="147.60" x2="442.50" y2="150.40" stroke="#444" stroke-width="0.8"/>
<line x1="455.30" y1="149.50" x2="458.10" y2="149.50" stroke="#444" stroke-width="0.8"/>
<line x1="456.50" y1="147.60" x2="456.50" y2="150.40" stroke="#444" stroke-width="0.8"/>
<rect x="340.55" y="154.95" width="124.30" height="19.50" fill="#e2e2e2" stroke="#2a2a2a" stroke-width="1.5" rx="0.8"/>
<rect x="343.00" y="159.50" width="24.00" height="10.00" rx="4.00" fill="#000" fill-opacity="0.06" filter="url(#bl2)"/>
<rect x="385.00" y="159.50" width="30.00" height="10.00" rx="4.00" fill="#000" fill-opacity="0.08" filter="url(#bl2)"/>
<rect x="345.80" y="162.00" width="8.00" height="4.00" rx="1.60" fill="#000" fill-opacity="0.15" filter="url(#bl3)"/>
<rect x="357.90" y="157.00" width="11.00" height="13.00" rx="4.40" fill="#000" fill-opacity="0.2" filter="url(#bl2)"/>
<rect x="358.20" y="161.00" width="10.40" height="6.00" rx="2.40" fill="#000" fill-opacity="0.95" filter="url(#bl3)"/>
<rect x="358.60" y="158.80" width="9.60" height="3.40" rx="1.36" fill="#000" fill-opacity="0.7" filter="url(#bl3)"/>
<rect x="371.95" y="158.00" width="9.50" height="11.00" rx="3.80" fill="#000" fill-opacity="0.18" filter="url(#bl2)"/>
<rect x="372.20" y="161.70" width="9.00" height="5.20" rx="2.08" fill="#000" fill-opacity="0.95" filter="url(#bl3)"/>
<rect x="383.80" y="162.00" width="9.00" height="4.40" rx="1.76" fill="#000" fill-opacity="0.3" filter="url(#bl3)"/>
<rect x="397.00" y="161.60" width="9.00" height="4.40" rx="1.76" fill="#000" fill-opacity="0.38" filter="url(#bl3)"/>
<rect x="410.40" y="162.50" width="8.00" height="4.00" rx="1.60" fill="#000" fill-opacity="0.16" filter="url(#bl3)"/>
<rect x="423.90" y="162.50" width="8.00" height="4.00" rx="1.60" fill="#000" fill-opacity="0.18" filter="url(#bl3)"/>
<rect x="437.90" y="154.00" width="11.00" height="16.00" rx="4.40" fill="#000" fill-opacity="0.3" filter="url(#bl2)"/>
<rect x="438.00" y="157.05" width="10.80" height="10.50" rx="4.20" fill="#000" fill-opacity="1.0" filter="url(#bl3)"/>
<rect x="439.90" y="155.00" width="7.00" height="4.00" rx="1.60" fill="#000" fill-opacity="0.8" filter="url(#bl3)"/>
<rect x="451.95" y="154.50" width="10.50" height="15.00" rx="4.20" fill="#000" fill-opacity="0.3" filter="url(#bl2)"/>
<rect x="452.10" y="157.90" width="10.20" height="9.00" rx="3.60" fill="#000" fill-opacity="1.0" filter="url(#bl3)"/>
<line x1="449.8" y1="155" x2="449.8" y2="174.5" stroke="#fff" stroke-opacity="0.6" stroke-width="1"/>
<text font-size="7.2" text-anchor="start" dominant-baseline="central" fill="#1a1a1a" stroke="#1a1a1a" stroke-width="0.22" x="467.80" y="163.80" textLength="12.5" lengthAdjust="spacingAndGlyphs" >vWF</text>
<text font-size="6.5" text-anchor="middle" dominant-baseline="central" fill="#1a1a1a" stroke="#1a1a1a" stroke-width="0.13" x="0" y="0" transform="translate(363.40 189.60) scale(0.91 1)" >WT</text>
<text font-size="6.5" text-anchor="middle" dominant-baseline="central" fill="#1a1a1a" stroke="#1a1a1a" stroke-width="0.13" x="0" y="0" transform="translate(401.00 181.90) scale(0.86 1)" >EPCR</text>
<text font-size="6.5" text-anchor="middle" dominant-baseline="central" fill="#1a1a1a" stroke="#1a1a1a" stroke-width="0.13" x="0" y="0" transform="translate(401.00 189.60) scale(0.96 1)" >KO</text>
<text font-size="6.5" text-anchor="middle" dominant-baseline="central" fill="#1a1a1a" stroke="#1a1a1a" stroke-width="0.13" x="0" y="0" transform="translate(433.70 181.90) scale(0.86 1)" >EPCR</text>
<text font-size="6.5" text-anchor="middle" dominant-baseline="central" fill="#1a1a1a" stroke="#1a1a1a" stroke-width="0.13" x="0" y="0" transform="translate(433.70 189.60) scale(0.93 1)" >OX</text>
<line x1="348.00" y1="196.50" x2="380.00" y2="196.50" stroke="#2e2e2e" stroke-width="1.2"/>
<line x1="384.20" y1="196.50" x2="417.30" y2="196.50" stroke="#2e2e2e" stroke-width="1.2"/>
<line x1="421.20" y1="196.50" x2="446.80" y2="196.50" stroke="#2e2e2e" stroke-width="1.2"/>
<text font-size="6.5" text-anchor="end" dominant-baseline="central" fill="#1a1a1a" stroke="#1a1a1a" stroke-width="0.13" x="0" y="0" transform="translate(341.80 202.20) scale(0.95 1)" >FVIIa</text>
<line x1="350.10" y1="202.50" x2="351.90" y2="202.50" stroke="#444" stroke-width="0.8"/>
<line x1="359.80" y1="202.50" x2="361.60" y2="202.50" stroke="#444" stroke-width="0.8"/>
<line x1="368.10" y1="202.50" x2="370.90" y2="202.50" stroke="#444" stroke-width="0.8"/>
<line x1="369.50" y1="201.20" x2="369.50" y2="204.00" stroke="#444" stroke-width="0.8"/>
<line x1="377.30" y1="202.50" x2="380.10" y2="202.50" stroke="#444" stroke-width="0.8"/>
<line x1="378.50" y1="201.20" x2="378.50" y2="204.00" stroke="#444" stroke-width="0.8"/>
<line x1="387.00" y1="202.50" x2="388.80" y2="202.50" stroke="#444" stroke-width="0.8"/>
<line x1="395.60" y1="202.50" x2="397.40" y2="202.50" stroke="#444" stroke-width="0.8"/>
<line x1="403.80" y1="202.50" x2="406.60" y2="202.50" stroke="#444" stroke-width="0.8"/>
<line x1="405.50" y1="201.20" x2="405.50" y2="204.00" stroke="#444" stroke-width="0.8"/>
<line x1="413.00" y1="202.50" x2="415.80" y2="202.50" stroke="#444" stroke-width="0.8"/>
<line x1="414.50" y1="201.20" x2="414.50" y2="204.00" stroke="#444" stroke-width="0.8"/>
<line x1="423.30" y1="202.50" x2="425.10" y2="202.50" stroke="#444" stroke-width="0.8"/>
<line x1="431.40" y1="202.50" x2="434.20" y2="202.50" stroke="#444" stroke-width="0.8"/>
<line x1="432.50" y1="201.20" x2="432.50" y2="204.00" stroke="#444" stroke-width="0.8"/>
<line x1="439.80" y1="202.50" x2="442.60" y2="202.50" stroke="#444" stroke-width="0.8"/>
<line x1="441.50" y1="201.20" x2="441.50" y2="204.00" stroke="#444" stroke-width="0.8"/>
<text font-size="6.5" text-anchor="middle" dominant-baseline="central" fill="#1a1a1a" stroke="#1a1a1a" stroke-width="0.13" x="0" y="0" transform="translate(449.70 202.60) scale(0.95 1)" >R</text>
<text font-size="6.5" text-anchor="middle" dominant-baseline="central" fill="#1a1a1a" stroke="#1a1a1a" stroke-width="0.13" x="0" y="0" transform="translate(461.20 202.60) scale(0.95 1)" >E</text>
<text font-size="6.5" text-anchor="middle" dominant-baseline="central" fill="#1a1a1a" stroke="#1a1a1a" stroke-width="0.13" x="0" y="0" transform="translate(468.80 202.60) scale(0.95 1)" >P</text>
<text font-size="6.5" text-anchor="middle" dominant-baseline="central" fill="#1a1a1a" stroke="#1a1a1a" stroke-width="0.13" x="0" y="0" transform="translate(478.30 202.60) scale(0.95 1)" >M</text>
<rect x="346.25" y="210.15" width="139.60" height="22.70" fill="#efefef" stroke="#2a2a2a" stroke-width="1.5" rx="0.8"/>
<rect x="347.00" y="220.30" width="6.40" height="3.00" rx="1.20" fill="#000" fill-opacity="0.55" filter="url(#bl)"/>
<rect x="356.35" y="220.30" width="6.40" height="3.00" rx="1.20" fill="#000" fill-opacity="0.6" filter="url(#bl)"/>
<rect x="365.70" y="220.30" width="6.40" height="3.00" rx="1.20" fill="#000" fill-opacity="0.5" filter="url(#bl)"/>
<rect x="375.05" y="220.30" width="6.40" height="3.00" rx="1.20" fill="#000" fill-opacity="0.58" filter="url(#bl)"/>
<rect x="384.40" y="220.30" width="6.40" height="3.00" rx="1.20" fill="#000" fill-opacity="0.62" filter="url(#bl)"/>
<rect x="393.75" y="220.30" width="6.40" height="3.00" rx="1.20" fill="#000" fill-opacity="0.65" filter="url(#bl)"/>
<rect x="403.10" y="220.30" width="6.40" height="3.00" rx="1.20" fill="#000" fill-opacity="0.55" filter="url(#bl)"/>
<rect x="412.45" y="220.30" width="6.40" height="3.00" rx="1.20" fill="#000" fill-opacity="0.58" filter="url(#bl)"/>
<rect x="421.80" y="220.30" width="6.40" height="3.00" rx="1.20" fill="#000" fill-opacity="0.62" filter="url(#bl)"/>
<rect x="431.15" y="220.30" width="6.40" height="3.00" rx="1.20" fill="#000" fill-opacity="0.72" filter="url(#bl)"/>
<rect x="440.50" y="220.30" width="6.40" height="3.00" rx="1.20" fill="#000" fill-opacity="0.45" filter="url(#bl)"/>
<rect x="449.30" y="210.00" width="6.00" height="10.00" rx="2.40" fill="#000" fill-opacity="0.12" filter="url(#bl2)"/>
<rect x="447.60" y="218.90" width="9.40" height="5.80" rx="2.32" fill="#000" fill-opacity="1.0" filter="url(#bl)"/>
<rect x="448.20" y="219.50" width="8.20" height="4.60" rx="1.84" fill="#000" fill-opacity="1.0" filter="url(#bl)"/>
<rect x="470.40" y="221.60" width="1.20" height="1.20" rx="0.48" fill="#000" fill-opacity="0.3" filter="url(#bl)"/>
<rect x="479.70" y="221.00" width="1.20" height="1.20" rx="0.48" fill="#000" fill-opacity="0.35" filter="url(#bl)"/>
<text font-size="7.2" text-anchor="start" dominant-baseline="central" fill="#1a1a1a" stroke="#1a1a1a" stroke-width="0.22" x="491.00" y="222.00" textLength="22" lengthAdjust="spacingAndGlyphs" >TER119</text>
<text font-size="11.6" text-anchor="start" dominant-baseline="central" fill="#000" stroke="#000" stroke-width="0.55" font-weight="bold" x="0" y="0" transform="translate(10.60 158.70)" >D</text>
<line x1="44.00" y1="236.70" x2="44.00" y2="171.30" stroke="#111" stroke-width="1.5"/>
<line x1="41.10" y1="236.50" x2="44.40" y2="236.50" stroke="#111" stroke-width="1.0"/>
<text font-size="6.5" text-anchor="end" dominant-baseline="central" fill="#1a1a1a" stroke="#1a1a1a" stroke-width="0.13" x="0" y="0" transform="translate(38.40 236.40)" >0</text>
<line x1="41.10" y1="220.50" x2="44.40" y2="220.50" stroke="#111" stroke-width="1.0"/>
<text font-size="6.5" text-anchor="end" dominant-baseline="central" fill="#1a1a1a" stroke="#1a1a1a" stroke-width="0.13" x="0" y="0" transform="translate(38.40 220.85)" >1</text>
<line x1="41.10" y1="204.50" x2="44.40" y2="204.50" stroke="#111" stroke-width="1.0"/>
<text font-size="6.5" text-anchor="end" dominant-baseline="central" fill="#1a1a1a" stroke="#1a1a1a" stroke-width="0.13" x="0" y="0" transform="translate(38.40 205.30)" >2</text>
<line x1="41.10" y1="189.50" x2="44.40" y2="189.50" stroke="#111" stroke-width="1.0"/>
<text font-size="6.5" text-anchor="end" dominant-baseline="central" fill="#1a1a1a" stroke="#1a1a1a" stroke-width="0.13" x="0" y="0" transform="translate(38.40 189.75)" >3</text>
<line x1="41.10" y1="173.50" x2="44.40" y2="173.50" stroke="#111" stroke-width="1.0"/>
<text font-size="6.5" text-anchor="end" dominant-baseline="central" fill="#1a1a1a" stroke="#1a1a1a" stroke-width="0.13" x="0" y="0" transform="translate(38.40 174.20)" >4</text>
<line x1="42.80" y1="232.50" x2="44.40" y2="232.50" stroke="#111" stroke-width="0.8"/>
<line x1="42.80" y1="229.50" x2="44.40" y2="229.50" stroke="#111" stroke-width="0.8"/>
<line x1="42.80" y1="226.50" x2="44.40" y2="226.50" stroke="#111" stroke-width="0.8"/>
<line x1="42.80" y1="223.50" x2="44.40" y2="223.50" stroke="#111" stroke-width="0.8"/>
<line x1="42.80" y1="217.50" x2="44.40" y2="217.50" stroke="#111" stroke-width="0.8"/>
<line x1="42.80" y1="214.50" x2="44.40" y2="214.50" stroke="#111" stroke-width="0.8"/>
<line x1="42.80" y1="211.50" x2="44.40" y2="211.50" stroke="#111" stroke-width="0.8"/>
<line x1="42.80" y1="208.50" x2="44.40" y2="208.50" stroke="#111" stroke-width="0.8"/>
<line x1="42.80" y1="201.50" x2="44.40" y2="201.50" stroke="#111" stroke-width="0.8"/>
<line x1="42.80" y1="198.50" x2="44.40" y2="198.50" stroke="#111" stroke-width="0.8"/>
<line x1="42.80" y1="195.50" x2="44.40" y2="195.50" stroke="#111" stroke-width="0.8"/>
<line x1="42.80" y1="192.50" x2="44.40" y2="192.50" stroke="#111" stroke-width="0.8"/>
<line x1="42.80" y1="186.50" x2="44.40" y2="186.50" stroke="#111" stroke-width="0.8"/>
<line x1="42.80" y1="183.50" x2="44.40" y2="183.50" stroke="#111" stroke-width="0.8"/>
<line x1="42.80" y1="180.50" x2="44.40" y2="180.50" stroke="#111" stroke-width="0.8"/>
<line x1="42.80" y1="176.50" x2="44.40" y2="176.50" stroke="#111" stroke-width="0.8"/>
<line x1="43.90" y1="236.00" x2="132.00" y2="236.00" stroke="#111" stroke-width="1.4"/>
<line x1="53.50" y1="236.00" x2="53.50" y2="239.30" stroke="#333" stroke-width="0.9"/>
<line x1="67.50" y1="236.00" x2="67.50" y2="239.30" stroke="#333" stroke-width="0.9"/>
<line x1="81.50" y1="236.00" x2="81.50" y2="239.30" stroke="#333" stroke-width="0.9"/>
<line x1="95.50" y1="236.00" x2="95.50" y2="239.30" stroke="#333" stroke-width="0.9"/>
<line x1="109.50" y1="236.00" x2="109.50" y2="239.30" stroke="#333" stroke-width="0.9"/>
<line x1="122.50" y1="236.00" x2="122.50" y2="239.30" stroke="#333" stroke-width="0.9"/>
<text font-size="8.2" text-anchor="middle" dominant-baseline="central" fill="#1e1e1e" stroke="#1e1e1e" stroke-width="0.06" x="0" y="0" transform="translate(17.40 203) rotate(-90) scale(0.7910276951247425 1)" >VE-cadherin levels</text>
<text font-size="8.2" text-anchor="middle" dominant-baseline="central" fill="#1e1e1e" stroke="#1e1e1e" stroke-width="0.06" x="0" y="0" transform="translate(26.90 203) rotate(-90) scale(0.8348359869556877 1)" >(normalized to control)</text>
<line x1="51.50" y1="181.00" x2="66.00" y2="181.00" stroke="#4a4a4a" stroke-width="1.4"/>
<rect x="56.50" y="177.45" width="1.7" height="1.7" rx="0.3" fill="#333"/>
<rect x="59.40" y="177.45" width="1.7" height="1.7" rx="0.3" fill="#333"/>
<polyline points="68.50,181.50 68.50,178.50 96.50,178.50 96.50,207.50" fill="none" stroke="#3a3a3a" stroke-width="1.2"/>
<rect x="80.40" y="174.15" width="1.7" height="1.7" rx="0.3" fill="#333"/>
<rect x="83.30" y="174.15" width="1.7" height="1.7" rx="0.3" fill="#333"/>
<line x1="79.00" y1="212.00" x2="93.80" y2="212.00" stroke="#4a4a4a" stroke-width="1.4"/>
<text font-size="6.3" text-anchor="middle" dominant-baseline="central" fill="#2a2a2a" stroke="#2a2a2a" stroke-width="0.16" x="0" y="0" transform="translate(86.30 207.30)" >ns</text>
<line x1="109.20" y1="185.00" x2="124.00" y2="185.00" stroke="#4a4a4a" stroke-width="1.4"/>
<rect x="113.25" y="181.65" width="1.7" height="1.7" rx="0.3" fill="#333"/>
<rect x="116.15" y="181.65" width="1.7" height="1.7" rx="0.3" fill="#333"/>
<rect x="119.05" y="181.65" width="1.7" height="1.7" rx="0.3" fill="#333"/>
<circle cx="51.50" cy="218.50" r="2.35" fill="#6aaf3d"/>
<circle cx="54.00" cy="217.30" r="2.35" fill="#6aaf3d"/>
<circle cx="56.50" cy="219.30" r="2.35" fill="#6aaf3d"/>
<circle cx="52.30" cy="220.50" r="2.35" fill="#6aaf3d"/>
<circle cx="55.30" cy="220.60" r="2.35" fill="#6aaf3d"/>
<circle cx="53.50" cy="219.00" r="2.35" fill="#6aaf3d"/>
<circle cx="53.50" cy="229.90" r="2.35" fill="#6aaf3d"/>
<path d="M67.80,183.29L70.35,187.67L65.25,187.67Z" fill="#1f3f7d"/>
<path d="M68.10,201.69L70.65,206.07L65.55,206.07Z" fill="#1f3f7d"/>
<path d="M66.00,205.19L68.55,209.57L63.45,209.57Z" fill="#1f3f7d"/>
<path d="M69.50,204.59L72.05,208.97L66.95,208.97Z" fill="#1f3f7d"/>
<path d="M66.00,209.39L68.55,213.77L63.45,213.77Z" fill="#1f3f7d"/>
<path d="M70.00,209.09L72.55,213.47L67.45,213.47Z" fill="#1f3f7d"/>
<line x1="62.80" y1="206.50" x2="72.00" y2="206.50" stroke="#505050" stroke-width="0.9"/>
<circle cx="78.00" cy="219.00" r="2.35" fill="#e8901e"/>
<circle cx="80.30" cy="218.30" r="2.35" fill="#e8901e"/>
<circle cx="82.60" cy="216.80" r="2.35" fill="#e8901e"/>
<circle cx="84.50" cy="217.50" r="2.35" fill="#e8901e"/>
<circle cx="79.50" cy="221.00" r="2.35" fill="#e8901e"/>
<circle cx="81.30" cy="227.80" r="2.35" fill="#e8901e"/>
<circle cx="81.30" cy="233.40" r="2.35" fill="#e8901e"/>
<line x1="77.00" y1="219.50" x2="86.50" y2="219.50" stroke="#505050" stroke-width="0.9"/>
<path d="M92.50,215.09L95.05,219.47L89.95,219.47Z" fill="#5fa6e2"/>
<path d="M95.00,214.19L97.55,218.57L92.45,218.57Z" fill="#5fa6e2"/>
<path d="M97.50,215.09L100.05,219.47L94.95,219.47Z" fill="#5fa6e2"/>
<path d="M94.00,215.79L96.55,220.17L91.45,220.17Z" fill="#5fa6e2"/>
<path d="M96.50,215.79L99.05,220.17L93.95,220.17Z" fill="#5fa6e2"/>
<path d="M95.60,226.19L98.15,230.57L93.05,230.57Z" fill="#5fa6e2"/>
<path d="M94.00,228.59L96.55,232.97L91.45,232.97Z" fill="#5fa6e2"/>
<line x1="90.70" y1="217.50" x2="99.80" y2="217.50" stroke="#505050" stroke-width="0.9"/>
<circle cx="106.00" cy="216.50" r="2.35" fill="#4a1c63"/>
<circle cx="108.50" cy="216.00" r="2.35" fill="#4a1c63"/>
<circle cx="111.00" cy="216.50" r="2.35" fill="#4a1c63"/>
<circle cx="113.00" cy="217.00" r="2.35" fill="#4a1c63"/>
<circle cx="109.50" cy="218.00" r="2.35" fill="#4a1c63"/>
<circle cx="109.30" cy="227.20" r="2.35" fill="#4a1c63"/>
<circle cx="109.30" cy="233.40" r="2.35" fill="#4a1c63"/>
<line x1="104.50" y1="216.50" x2="114.00" y2="216.50" stroke="#505050" stroke-width="0.9"/>
<path d="M123.00,191.69L125.55,196.07L120.45,196.07Z" fill="#b3122e"/>
<path d="M121.50,198.69L124.05,203.07L118.95,203.07Z" fill="#b3122e"/>
<path d="M124.00,198.09L126.55,202.47L121.45,202.47Z" fill="#b3122e"/>
<path d="M122.00,201.39L124.55,205.77L119.45,205.77Z" fill="#b3122e"/>
<path d="M125.50,201.09L128.05,205.47L122.95,205.47Z" fill="#b3122e"/>
<path d="M121.00,206.69L123.55,211.07L118.45,211.07Z" fill="#b3122e"/>
<path d="M124.50,206.29L127.05,210.67L121.95,210.67Z" fill="#b3122e"/>
<line x1="118.70" y1="202.50" x2="127.30" y2="202.50" stroke="#505050" stroke-width="0.9"/>
<text font-size="6.5" text-anchor="end" dominant-baseline="central" fill="#1a1a1a" stroke="#1a1a1a" stroke-width="0.13" x="0" y="0" transform="translate(44.20 244.60) scale(0.95 1)" >FVIIa</text>
<line x1="52.60" y1="245.50" x2="54.40" y2="245.50" stroke="#444" stroke-width="0.8"/>
<line x1="66.10" y1="245.50" x2="68.90" y2="245.50" stroke="#444" stroke-width="0.8"/>
<line x1="67.50" y1="244.20" x2="67.50" y2="247.00" stroke="#444" stroke-width="0.8"/>
<line x1="80.40" y1="245.50" x2="82.20" y2="245.50" stroke="#444" stroke-width="0.8"/>
<line x1="93.80" y1="245.50" x2="96.60" y2="245.50" stroke="#444" stroke-width="0.8"/>
<line x1="95.50" y1="244.20" x2="95.50" y2="247.00" stroke="#444" stroke-width="0.8"/>
<line x1="108.30" y1="245.50" x2="110.10" y2="245.50" stroke="#444" stroke-width="0.8"/>
<line x1="121.30" y1="245.50" x2="124.10" y2="245.50" stroke="#444" stroke-width="0.8"/>
<line x1="122.50" y1="244.20" x2="122.50" y2="247.00" stroke="#444" stroke-width="0.8"/>
<line x1="53.00" y1="251.50" x2="68.00" y2="251.50" stroke="#2e2e2e" stroke-width="1.2"/>
<text font-size="6.5" text-anchor="middle" dominant-baseline="central" fill="#1a1a1a" stroke="#1a1a1a" stroke-width="0.13" x="0" y="0" transform="translate(60.50 257.30) scale(0.91 1)" >WT</text>
<line x1="80.80" y1="251.50" x2="95.70" y2="251.50" stroke="#2e2e2e" stroke-width="1.2"/>
<text font-size="6.5" text-anchor="middle" dominant-baseline="central" fill="#1a1a1a" stroke="#1a1a1a" stroke-width="0.13" x="0" y="0" transform="translate(88.25 257.30) scale(0.86 1)" >EPCR</text>
<text font-size="6.5" text-anchor="middle" dominant-baseline="central" fill="#1a1a1a" stroke="#1a1a1a" stroke-width="0.13" x="0" y="0" transform="translate(88.25 265.40) scale(0.96 1)" >KO</text>
<line x1="108.70" y1="251.50" x2="123.20" y2="251.50" stroke="#2e2e2e" stroke-width="1.2"/>
<text font-size="6.5" text-anchor="middle" dominant-baseline="central" fill="#1a1a1a" stroke="#1a1a1a" stroke-width="0.13" x="0" y="0" transform="translate(115.95 257.30) scale(0.86 1)" >EPCR</text>
<text font-size="6.5" text-anchor="middle" dominant-baseline="central" fill="#1a1a1a" stroke="#1a1a1a" stroke-width="0.13" x="0" y="0" transform="translate(115.95 265.40) scale(0.93 1)" >OX</text>
<text font-size="11.6" text-anchor="start" dominant-baseline="central" fill="#000" stroke="#000" stroke-width="0.55" font-weight="bold" x="0" y="0" transform="translate(178.60 159.30)" >E</text>
<line x1="215.00" y1="236.00" x2="215.00" y2="172.60" stroke="#111" stroke-width="1.5"/>
<line x1="211.70" y1="235.50" x2="215.00" y2="235.50" stroke="#111" stroke-width="1.0"/>
<text font-size="6.5" text-anchor="end" dominant-baseline="central" fill="#1a1a1a" stroke="#1a1a1a" stroke-width="0.13" x="0" y="0" transform="translate(209.00 235.70)" >0.0</text>
<line x1="211.70" y1="220.50" x2="215.00" y2="220.50" stroke="#111" stroke-width="1.0"/>
<text font-size="6.5" text-anchor="end" dominant-baseline="central" fill="#1a1a1a" stroke="#1a1a1a" stroke-width="0.13" x="0" y="0" transform="translate(209.00 220.65)" >0.5</text>
<line x1="211.70" y1="205.50" x2="215.00" y2="205.50" stroke="#111" stroke-width="1.0"/>
<text font-size="6.5" text-anchor="end" dominant-baseline="central" fill="#1a1a1a" stroke="#1a1a1a" stroke-width="0.13" x="0" y="0" transform="translate(209.00 205.60)" >1.0</text>
<line x1="211.70" y1="190.50" x2="215.00" y2="190.50" stroke="#111" stroke-width="1.0"/>
<text font-size="6.5" text-anchor="end" dominant-baseline="central" fill="#1a1a1a" stroke="#1a1a1a" stroke-width="0.13" x="0" y="0" transform="translate(209.00 190.55)" >1.5</text>
<line x1="211.70" y1="175.50" x2="215.00" y2="175.50" stroke="#111" stroke-width="1.0"/>
<text font-size="6.5" text-anchor="end" dominant-baseline="central" fill="#1a1a1a" stroke="#1a1a1a" stroke-width="0.13" x="0" y="0" transform="translate(209.00 175.50)" >2.0</text>
<line x1="213.40" y1="232.50" x2="215.00" y2="232.50" stroke="#111" stroke-width="0.8"/>
<line x1="213.40" y1="229.50" x2="215.00" y2="229.50" stroke="#111" stroke-width="0.8"/>
<line x1="213.40" y1="226.50" x2="215.00" y2="226.50" stroke="#111" stroke-width="0.8"/>
<line x1="213.40" y1="223.50" x2="215.00" y2="223.50" stroke="#111" stroke-width="0.8"/>
<line x1="213.40" y1="217.50" x2="215.00" y2="217.50" stroke="#111" stroke-width="0.8"/>
<line x1="213.40" y1="214.50" x2="215.00" y2="214.50" stroke="#111" stroke-width="0.8"/>
<line x1="213.40" y1="211.50" x2="215.00" y2="211.50" stroke="#111" stroke-width="0.8"/>
<line x1="213.40" y1="208.50" x2="215.00" y2="208.50" stroke="#111" stroke-width="0.8"/>
<line x1="213.40" y1="202.50" x2="215.00" y2="202.50" stroke="#111" stroke-width="0.8"/>
<line x1="213.40" y1="199.50" x2="215.00" y2="199.50" stroke="#111" stroke-width="0.8"/>
<line x1="213.40" y1="196.50" x2="215.00" y2="196.50" stroke="#111" stroke-width="0.8"/>
<line x1="213.40" y1="193.50" x2="215.00" y2="193.50" stroke="#111" stroke-width="0.8"/>
<line x1="213.40" y1="187.50" x2="215.00" y2="187.50" stroke="#111" stroke-width="0.8"/>
<line x1="213.40" y1="184.50" x2="215.00" y2="184.50" stroke="#111" stroke-width="0.8"/>
<line x1="213.40" y1="181.50" x2="215.00" y2="181.50" stroke="#111" stroke-width="0.8"/>
<line x1="213.40" y1="178.50" x2="215.00" y2="178.50" stroke="#111" stroke-width="0.8"/>
<line x1="214.50" y1="235.00" x2="301.00" y2="235.00" stroke="#111" stroke-width="1.4"/>
<line x1="223.50" y1="235.30" x2="223.50" y2="238.60" stroke="#333" stroke-width="0.9"/>
<line x1="237.50" y1="235.30" x2="237.50" y2="238.60" stroke="#333" stroke-width="0.9"/>
<line x1="251.50" y1="235.30" x2="251.50" y2="238.60" stroke="#333" stroke-width="0.9"/>
<line x1="264.50" y1="235.30" x2="264.50" y2="238.60" stroke="#333" stroke-width="0.9"/>
<line x1="278.50" y1="235.30" x2="278.50" y2="238.60" stroke="#333" stroke-width="0.9"/>
<line x1="291.50" y1="235.30" x2="291.50" y2="238.60" stroke="#333" stroke-width="0.9"/>
<text font-size="8.2" text-anchor="middle" dominant-baseline="central" fill="#1e1e1e" stroke="#1e1e1e" stroke-width="0.06" x="0" y="0" transform="translate(182.50 201) rotate(-90) scale(0.6660530973451327 1)" >CD41 levels</text>
<text font-size="8.2" text-anchor="middle" dominant-baseline="central" fill="#1e1e1e" stroke="#1e1e1e" stroke-width="0.06" x="0" y="0" transform="translate(192.90 203) rotate(-90) scale(0.817648187224247 1)" >(normalized to control)</text>
<line x1="222.30" y1="193.00" x2="237.00" y2="193.00" stroke="#4a4a4a" stroke-width="1.4"/>
<text font-size="6.3" text-anchor="middle" dominant-baseline="central" fill="#2a2a2a" stroke="#2a2a2a" stroke-width="0.16" x="0" y="0" transform="translate(230.00 188.00)" >ns</text>
<polyline points="238.50,196.50 238.50,170.50 265.50,170.50 265.50,196.50" fill="none" stroke="#3a3a3a" stroke-width="1.2"/>
<text font-size="6.3" text-anchor="middle" dominant-baseline="central" fill="#2a2a2a" stroke="#2a2a2a" stroke-width="0.16" x="0" y="0" transform="translate(252.50 164.20)" >ns</text>
<line x1="246.80" y1="178.00" x2="262.00" y2="178.00" stroke="#4a4a4a" stroke-width="1.4"/>
<text font-size="6.3" text-anchor="middle" dominant-baseline="central" fill="#2a2a2a" stroke="#2a2a2a" stroke-width="0.16" x="0" y="0" transform="translate(254.60 172.40)" >ns</text>
<line x1="278.10" y1="186.00" x2="293.50" y2="186.00" stroke="#4a4a4a" stroke-width="1.4"/>
<text font-size="6.3" text-anchor="middle" dominant-baseline="central" fill="#2a2a2a" stroke="#2a2a2a" stroke-width="0.16" x="0" y="0" transform="translate(285.70 180.70)" >ns</text>
<circle cx="224.00" cy="201.30" r="2.35" fill="#6aaf3d"/>
<circle cx="220.60" cy="205.40" r="2.35" fill="#6aaf3d"/>
<circle cx="227.40" cy="205.40" r="2.35" fill="#6aaf3d"/>
<circle cx="224.00" cy="205.40" r="2.35" fill="#6aaf3d"/>
<circle cx="224.00" cy="209.50" r="2.35" fill="#6aaf3d"/>
<circle cx="224.10" cy="217.00" r="2.35" fill="#6aaf3d"/>
<path d="M235.50,201.39L238.05,205.77L232.95,205.77Z" fill="#1f3f7d"/>
<path d="M238.00,204.69L240.55,209.07L235.45,209.07Z" fill="#1f3f7d"/>
<path d="M236.00,208.39L238.55,212.77L233.45,212.77Z" fill="#1f3f7d"/>
<path d="M240.00,209.49L242.55,213.87L237.45,213.87Z" fill="#1f3f7d"/>
<path d="M237.50,212.69L240.05,217.07L234.95,217.07Z" fill="#1f3f7d"/>
<path d="M237.50,220.29L240.05,224.67L234.95,224.67Z" fill="#1f3f7d"/>
<line x1="233.80" y1="210.50" x2="241.80" y2="210.50" stroke="#505050" stroke-width="0.9"/>
<circle cx="251.30" cy="184.50" r="2.35" fill="#e8901e"/>
<circle cx="251.30" cy="196.80" r="2.35" fill="#e8901e"/>
<circle cx="251.30" cy="208.10" r="2.35" fill="#e8901e"/>
<circle cx="251.30" cy="219.80" r="2.35" fill="#e8901e"/>
<circle cx="248.80" cy="225.40" r="2.35" fill="#e8901e"/>
<circle cx="253.80" cy="224.30" r="2.35" fill="#e8901e"/>
<line x1="247.20" y1="214.50" x2="255.80" y2="214.50" stroke="#505050" stroke-width="0.9"/>
<path d="M267.50,201.39L270.05,205.77L264.95,205.77Z" fill="#5fa6e2"/>
<path d="M262.50,204.69L265.05,209.07L259.95,209.07Z" fill="#5fa6e2"/>
<path d="M265.00,209.99L267.55,214.37L262.45,214.37Z" fill="#5fa6e2"/>
<path d="M265.00,216.29L267.55,220.67L262.45,220.67Z" fill="#5fa6e2"/>
<path d="M262.50,222.99L265.05,227.37L259.95,227.37Z" fill="#5fa6e2"/>
<path d="M267.50,221.29L270.05,225.67L264.95,225.67Z" fill="#5fa6e2"/>
<line x1="260.10" y1="215.50" x2="269.30" y2="215.50" stroke="#505050" stroke-width="0.9"/>
<circle cx="278.30" cy="192.70" r="2.35" fill="#4a1c63"/>
<circle cx="275.80" cy="202.30" r="2.35" fill="#4a1c63"/>
<circle cx="278.00" cy="205.40" r="2.35" fill="#4a1c63"/>
<circle cx="281.00" cy="207.70" r="2.35" fill="#4a1c63"/>
<circle cx="276.00" cy="209.60" r="2.35" fill="#4a1c63"/>
<line x1="274.10" y1="207.50" x2="282.50" y2="207.50" stroke="#505050" stroke-width="0.9"/>
<path d="M291.80,192.59L294.35,196.97L289.25,196.97Z" fill="#b3122e"/>
<path d="M289.50,202.19L292.05,206.57L286.95,206.57Z" fill="#b3122e"/>
<path d="M291.50,205.69L294.05,210.07L288.95,210.07Z" fill="#b3122e"/>
<path d="M289.50,207.59L292.05,211.97L286.95,211.97Z" fill="#b3122e"/>
<path d="M294.00,206.39L296.55,210.77L291.45,210.77Z" fill="#b3122e"/>
<path d="M296.00,207.19L298.55,211.57L293.45,211.57Z" fill="#b3122e"/>
<line x1="287.50" y1="207.50" x2="296.40" y2="207.50" stroke="#505050" stroke-width="0.9"/>
<text font-size="6.5" text-anchor="end" dominant-baseline="central" fill="#1a1a1a" stroke="#1a1a1a" stroke-width="0.13" x="0" y="0" transform="translate(215.30 244.60) scale(0.95 1)" >FVIIa</text>
<line x1="222.60" y1="245.50" x2="224.40" y2="245.50" stroke="#444" stroke-width="0.8"/>
<line x1="236.00" y1="245.50" x2="238.80" y2="245.50" stroke="#444" stroke-width="0.8"/>
<line x1="237.50" y1="244.20" x2="237.50" y2="247.00" stroke="#444" stroke-width="0.8"/>
<line x1="250.40" y1="245.50" x2="252.20" y2="245.50" stroke="#444" stroke-width="0.8"/>
<line x1="263.20" y1="245.50" x2="266.00" y2="245.50" stroke="#444" stroke-width="0.8"/>
<line x1="264.50" y1="244.20" x2="264.50" y2="247.00" stroke="#444" stroke-width="0.8"/>
<line x1="277.50" y1="245.50" x2="279.30" y2="245.50" stroke="#444" stroke-width="0.8"/>
<line x1="290.40" y1="245.50" x2="293.20" y2="245.50" stroke="#444" stroke-width="0.8"/>
<line x1="291.50" y1="244.20" x2="291.50" y2="247.00" stroke="#444" stroke-width="0.8"/>
<line x1="223.00" y1="251.50" x2="237.90" y2="251.50" stroke="#2e2e2e" stroke-width="1.2"/>
<text font-size="6.5" text-anchor="middle" dominant-baseline="central" fill="#1a1a1a" stroke="#1a1a1a" stroke-width="0.13" x="0" y="0" transform="translate(230.45 256.90) scale(0.91 1)" >WT</text>
<line x1="250.80" y1="251.50" x2="265.10" y2="251.50" stroke="#2e2e2e" stroke-width="1.2"/>
<text font-size="6.5" text-anchor="middle" dominant-baseline="central" fill="#1a1a1a" stroke="#1a1a1a" stroke-width="0.13" x="0" y="0" transform="translate(257.95 256.90) scale(0.86 1)" >EPCR</text>
<text font-size="6.5" text-anchor="middle" dominant-baseline="central" fill="#1a1a1a" stroke="#1a1a1a" stroke-width="0.13" x="0" y="0" transform="translate(257.95 264.90) scale(0.96 1)" >KO</text>
<line x1="277.90" y1="251.50" x2="292.30" y2="251.50" stroke="#2e2e2e" stroke-width="1.2"/>
<text font-size="6.5" text-anchor="middle" dominant-baseline="central" fill="#1a1a1a" stroke="#1a1a1a" stroke-width="0.13" x="0" y="0" transform="translate(285.10 256.90) scale(0.86 1)" >EPCR</text>
<text font-size="6.5" text-anchor="middle" dominant-baseline="central" fill="#1a1a1a" stroke="#1a1a1a" stroke-width="0.13" x="0" y="0" transform="translate(285.10 264.90) scale(0.93 1)" >OX</text>
<text font-size="11.6" text-anchor="start" dominant-baseline="central" fill="#000" stroke="#000" stroke-width="0.55" font-weight="bold" x="0" y="0" transform="translate(11.10 291.80)" >F</text>
<line x1="44.00" y1="368.70" x2="44.00" y2="304.80" stroke="#111" stroke-width="1.5"/>
<line x1="41.10" y1="368.50" x2="44.40" y2="368.50" stroke="#111" stroke-width="1.0"/>
<text font-size="6.5" text-anchor="end" dominant-baseline="central" fill="#1a1a1a" stroke="#1a1a1a" stroke-width="0.13" x="0" y="0" transform="translate(38.40 368.40)" >0.0</text>
<line x1="41.10" y1="352.50" x2="44.40" y2="352.50" stroke="#111" stroke-width="1.0"/>
<text font-size="6.5" text-anchor="end" dominant-baseline="central" fill="#1a1a1a" stroke="#1a1a1a" stroke-width="0.13" x="0" y="0" transform="translate(38.40 353.23)" >0.5</text>
<line x1="41.10" y1="337.50" x2="44.40" y2="337.50" stroke="#111" stroke-width="1.0"/>
<text font-size="6.5" text-anchor="end" dominant-baseline="central" fill="#1a1a1a" stroke="#1a1a1a" stroke-width="0.13" x="0" y="0" transform="translate(38.40 338.05)" >1.0</text>
<line x1="41.10" y1="322.50" x2="44.40" y2="322.50" stroke="#111" stroke-width="1.0"/>
<text font-size="6.5" text-anchor="end" dominant-baseline="central" fill="#1a1a1a" stroke="#1a1a1a" stroke-width="0.13" x="0" y="0" transform="translate(38.40 322.88)" >1.5</text>
<line x1="41.10" y1="307.50" x2="44.40" y2="307.50" stroke="#111" stroke-width="1.0"/>
<text font-size="6.5" text-anchor="end" dominant-baseline="central" fill="#1a1a1a" stroke="#1a1a1a" stroke-width="0.13" x="0" y="0" transform="translate(38.40 307.70)" >2.0</text>
<line x1="42.80" y1="364.50" x2="44.40" y2="364.50" stroke="#111" stroke-width="0.8"/>
<line x1="42.80" y1="361.50" x2="44.40" y2="361.50" stroke="#111" stroke-width="0.8"/>
<line x1="42.80" y1="358.50" x2="44.40" y2="358.50" stroke="#111" stroke-width="0.8"/>
<line x1="42.80" y1="355.50" x2="44.40" y2="355.50" stroke="#111" stroke-width="0.8"/>
<line x1="42.80" y1="349.50" x2="44.40" y2="349.50" stroke="#111" stroke-width="0.8"/>
<line x1="42.80" y1="346.50" x2="44.40" y2="346.50" stroke="#111" stroke-width="0.8"/>
<line x1="42.80" y1="343.50" x2="44.40" y2="343.50" stroke="#111" stroke-width="0.8"/>
<line x1="42.80" y1="340.50" x2="44.40" y2="340.50" stroke="#111" stroke-width="0.8"/>
<line x1="42.80" y1="334.50" x2="44.40" y2="334.50" stroke="#111" stroke-width="0.8"/>
<line x1="42.80" y1="331.50" x2="44.40" y2="331.50" stroke="#111" stroke-width="0.8"/>
<line x1="42.80" y1="328.50" x2="44.40" y2="328.50" stroke="#111" stroke-width="0.8"/>
<line x1="42.80" y1="325.50" x2="44.40" y2="325.50" stroke="#111" stroke-width="0.8"/>
<line x1="42.80" y1="319.50" x2="44.40" y2="319.50" stroke="#111" stroke-width="0.8"/>
<line x1="42.80" y1="316.50" x2="44.40" y2="316.50" stroke="#111" stroke-width="0.8"/>
<line x1="42.80" y1="313.50" x2="44.40" y2="313.50" stroke="#111" stroke-width="0.8"/>
<line x1="42.80" y1="310.50" x2="44.40" y2="310.50" stroke="#111" stroke-width="0.8"/>
<line x1="43.90" y1="368.00" x2="130.00" y2="368.00" stroke="#111" stroke-width="1.4"/>
<line x1="53.50" y1="368.20" x2="53.50" y2="371.50" stroke="#333" stroke-width="0.9"/>
<line x1="66.50" y1="368.20" x2="66.50" y2="371.50" stroke="#333" stroke-width="0.9"/>
<line x1="80.50" y1="368.20" x2="80.50" y2="371.50" stroke="#333" stroke-width="0.9"/>
<line x1="94.50" y1="368.20" x2="94.50" y2="371.50" stroke="#333" stroke-width="0.9"/>
<line x1="107.50" y1="368.20" x2="107.50" y2="371.50" stroke="#333" stroke-width="0.9"/>
<line x1="120.50" y1="368.20" x2="120.50" y2="371.50" stroke="#333" stroke-width="0.9"/>
<text font-size="8.2" text-anchor="middle" dominant-baseline="central" fill="#1e1e1e" stroke="#1e1e1e" stroke-width="0.06" x="0" y="0" transform="translate(11.60 337) rotate(-90) scale(0.743079646017699 1)" >CD14 levels</text>
<text font-size="8.2" text-anchor="middle" dominant-baseline="central" fill="#1e1e1e" stroke="#1e1e1e" stroke-width="0.06" x="0" y="0" transform="translate(22.30 336) rotate(-90) scale(0.8348359869556877 1)" >(normalized to control)</text>
<line x1="52.60" y1="327.00" x2="67.60" y2="327.00" stroke="#4a4a4a" stroke-width="1.4"/>
<text font-size="6.3" text-anchor="middle" dominant-baseline="central" fill="#2a2a2a" stroke="#2a2a2a" stroke-width="0.16" x="0" y="0" transform="translate(60.00 321.40)" >ns</text>
<polyline points="69.50,329.50 69.50,310.50 99.50,310.50 99.50,322.50" fill="none" stroke="#3a3a3a" stroke-width="1.2"/>
<text font-size="6.3" text-anchor="middle" dominant-baseline="central" fill="#2a2a2a" stroke="#2a2a2a" stroke-width="0.16" x="0" y="0" transform="translate(83.50 305.00)" >ns</text>
<line x1="80.40" y1="321.00" x2="95.50" y2="321.00" stroke="#4a4a4a" stroke-width="1.4"/>
<text font-size="6.3" text-anchor="middle" dominant-baseline="central" fill="#2a2a2a" stroke="#2a2a2a" stroke-width="0.16" x="0" y="0" transform="translate(87.70 315.30)" >ns</text>
<line x1="105.80" y1="320.00" x2="120.60" y2="320.00" stroke="#4a4a4a" stroke-width="1.4"/>
<text font-size="6.3" text-anchor="middle" dominant-baseline="central" fill="#2a2a2a" stroke="#2a2a2a" stroke-width="0.16" x="0" y="0" transform="translate(113.10 314.00)" >ns</text>
<circle cx="50.80" cy="338.00" r="2.35" fill="#6aaf3d"/>
<circle cx="53.00" cy="336.50" r="2.35" fill="#6aaf3d"/>
<circle cx="55.50" cy="336.80" r="2.35" fill="#6aaf3d"/>
<circle cx="56.30" cy="338.50" r="2.35" fill="#6aaf3d"/>
<circle cx="52.30" cy="339.00" r="2.35" fill="#6aaf3d"/>
<circle cx="54.50" cy="339.30" r="2.35" fill="#6aaf3d"/>
<path d="M69.50,331.19L72.05,335.57L66.95,335.57Z" fill="#1f3f7d"/>
<path d="M64.50,332.69L67.05,337.07L61.95,337.07Z" fill="#1f3f7d"/>
<path d="M67.00,335.79L69.55,340.17L64.45,340.17Z" fill="#1f3f7d"/>
<path d="M65.00,340.49L67.55,344.87L62.45,344.87Z" fill="#1f3f7d"/>
<path d="M69.00,342.79L71.55,347.17L66.45,347.17Z" fill="#1f3f7d"/>
<path d="M64.50,342.59L67.05,346.97L61.95,346.97Z" fill="#1f3f7d"/>
<line x1="62.60" y1="340.50" x2="71.40" y2="340.50" stroke="#505050" stroke-width="0.9"/>
<circle cx="79.00" cy="334.60" r="2.35" fill="#e8901e"/>
<circle cx="82.00" cy="334.30" r="2.35" fill="#e8901e"/>
<circle cx="80.50" cy="337.50" r="2.35" fill="#e8901e"/>
<circle cx="83.30" cy="339.00" r="2.35" fill="#e8901e"/>
<circle cx="78.60" cy="340.00" r="2.35" fill="#e8901e"/>
<circle cx="81.50" cy="341.30" r="2.35" fill="#e8901e"/>
<line x1="76.00" y1="339.50" x2="84.00" y2="339.50" stroke="#505050" stroke-width="0.9"/>
<path d="M96.50,323.39L99.05,327.77L93.95,327.77Z" fill="#5fa6e2"/>
<path d="M91.50,324.89L94.05,329.27L88.95,329.27Z" fill="#5fa6e2"/>
<path d="M96.50,329.09L99.05,333.47L93.95,333.47Z" fill="#5fa6e2"/>
<path d="M91.50,333.29L94.05,337.67L88.95,337.67Z" fill="#5fa6e2"/>
<path d="M96.00,338.39L98.55,342.77L93.45,342.77Z" fill="#5fa6e2"/>
<path d="M91.50,340.49L94.05,344.87L88.95,344.87Z" fill="#5fa6e2"/>
<line x1="89.60" y1="333.50" x2="98.00" y2="333.50" stroke="#505050" stroke-width="0.9"/>
<circle cx="107.20" cy="327.50" r="2.35" fill="#4a1c63"/>
<circle cx="106.00" cy="334.30" r="2.35" fill="#4a1c63"/>
<circle cx="109.50" cy="336.50" r="2.35" fill="#4a1c63"/>
<circle cx="107.50" cy="341.40" r="2.35" fill="#4a1c63"/>
<circle cx="105.00" cy="345.10" r="2.35" fill="#4a1c63"/>
<circle cx="110.00" cy="344.80" r="2.35" fill="#4a1c63"/>
<line x1="103.20" y1="339.50" x2="111.80" y2="339.50" stroke="#505050" stroke-width="0.9"/>
<path d="M123.00,333.79L125.55,338.17L120.45,338.17Z" fill="#b3122e"/>
<path d="M121.00,336.19L123.55,340.57L118.45,340.57Z" fill="#b3122e"/>
<path d="M123.50,337.39L126.05,341.77L120.95,341.77Z" fill="#b3122e"/>
<path d="M121.00,338.69L123.55,343.07L118.45,343.07Z" fill="#b3122e"/>
<path d="M119.00,343.59L121.55,347.97L116.45,347.97Z" fill="#b3122e"/>
<path d="M124.30,343.59L126.85,347.97L121.75,347.97Z" fill="#b3122e"/>
<path d="M121.50,342.59L124.05,346.97L118.95,346.97Z" fill="#b3122e"/>
<line x1="116.50" y1="342.50" x2="125.10" y2="342.50" stroke="#505050" stroke-width="0.9"/>
<text font-size="6.5" text-anchor="end" dominant-baseline="central" fill="#1a1a1a" stroke="#1a1a1a" stroke-width="0.13" x="0" y="0" transform="translate(44.20 376.60) scale(0.95 1)" >FVIIa</text>
<line x1="52.10" y1="377.50" x2="53.90" y2="377.50" stroke="#444" stroke-width="0.8"/>
<line x1="65.50" y1="377.50" x2="68.30" y2="377.50" stroke="#444" stroke-width="0.8"/>
<line x1="66.50" y1="376.20" x2="66.50" y2="379.00" stroke="#444" stroke-width="0.8"/>
<line x1="79.50" y1="377.50" x2="81.30" y2="377.50" stroke="#444" stroke-width="0.8"/>
<line x1="92.70" y1="377.50" x2="95.50" y2="377.50" stroke="#444" stroke-width="0.8"/>
<line x1="94.50" y1="376.20" x2="94.50" y2="379.00" stroke="#444" stroke-width="0.8"/>
<line x1="106.30" y1="377.50" x2="108.10" y2="377.50" stroke="#444" stroke-width="0.8"/>
<line x1="119.20" y1="377.50" x2="122.00" y2="377.50" stroke="#444" stroke-width="0.8"/>
<line x1="120.50" y1="376.20" x2="120.50" y2="379.00" stroke="#444" stroke-width="0.8"/>
<line x1="52.50" y1="384.50" x2="67.40" y2="384.50" stroke="#2e2e2e" stroke-width="1.2"/>
<text font-size="6.5" text-anchor="middle" dominant-baseline="central" fill="#1a1a1a" stroke="#1a1a1a" stroke-width="0.13" x="0" y="0" transform="translate(59.95 390.60) scale(0.91 1)" >WT</text>
<line x1="79.90" y1="384.50" x2="94.60" y2="384.50" stroke="#2e2e2e" stroke-width="1.2"/>
<text font-size="6.5" text-anchor="middle" dominant-baseline="central" fill="#1a1a1a" stroke="#1a1a1a" stroke-width="0.13" x="0" y="0" transform="translate(87.25 390.60) scale(0.86 1)" >EPCR</text>
<text font-size="6.5" text-anchor="middle" dominant-baseline="central" fill="#1a1a1a" stroke="#1a1a1a" stroke-width="0.13" x="0" y="0" transform="translate(87.25 397.80) scale(0.96 1)" >KO</text>
<line x1="106.70" y1="384.50" x2="121.10" y2="384.50" stroke="#2e2e2e" stroke-width="1.2"/>
<text font-size="6.5" text-anchor="middle" dominant-baseline="central" fill="#1a1a1a" stroke="#1a1a1a" stroke-width="0.13" x="0" y="0" transform="translate(113.90 390.60) scale(0.86 1)" >EPCR</text>
<text font-size="6.5" text-anchor="middle" dominant-baseline="central" fill="#1a1a1a" stroke="#1a1a1a" stroke-width="0.13" x="0" y="0" transform="translate(113.90 397.80) scale(0.93 1)" >OX</text>
<text font-size="11.6" text-anchor="start" dominant-baseline="central" fill="#000" stroke="#000" stroke-width="0.55" font-weight="bold" x="0" y="0" transform="translate(179.55 292.10)" >G</text>
<line x1="215.00" y1="368.50" x2="215.00" y2="306.20" stroke="#111" stroke-width="1.5"/>
<line x1="211.90" y1="367.50" x2="215.20" y2="367.50" stroke="#111" stroke-width="1.0"/>
<text font-size="6.5" text-anchor="end" dominant-baseline="central" fill="#1a1a1a" stroke="#1a1a1a" stroke-width="0.13" x="0" y="0" transform="translate(209.20 368.20)" >0</text>
<line x1="211.90" y1="355.50" x2="215.20" y2="355.50" stroke="#111" stroke-width="1.0"/>
<text font-size="6.5" text-anchor="end" dominant-baseline="central" fill="#1a1a1a" stroke="#1a1a1a" stroke-width="0.13" x="0" y="0" transform="translate(209.20 356.38)" >2</text>
<line x1="211.90" y1="344.50" x2="215.20" y2="344.50" stroke="#111" stroke-width="1.0"/>
<text font-size="6.5" text-anchor="end" dominant-baseline="central" fill="#1a1a1a" stroke="#1a1a1a" stroke-width="0.13" x="0" y="0" transform="translate(209.20 344.56)" >4</text>
<line x1="211.90" y1="332.50" x2="215.20" y2="332.50" stroke="#111" stroke-width="1.0"/>
<text font-size="6.5" text-anchor="end" dominant-baseline="central" fill="#1a1a1a" stroke="#1a1a1a" stroke-width="0.13" x="0" y="0" transform="translate(209.20 332.74)" >6</text>
<line x1="211.90" y1="320.50" x2="215.20" y2="320.50" stroke="#111" stroke-width="1.0"/>
<text font-size="6.5" text-anchor="end" dominant-baseline="central" fill="#1a1a1a" stroke="#1a1a1a" stroke-width="0.13" x="0" y="0" transform="translate(209.20 320.92)" >8</text>
<line x1="211.90" y1="308.50" x2="215.20" y2="308.50" stroke="#111" stroke-width="1.0"/>
<text font-size="6.5" text-anchor="end" dominant-baseline="central" fill="#1a1a1a" stroke="#1a1a1a" stroke-width="0.13" x="0" y="0" transform="translate(209.20 309.10)" >10</text>
<line x1="213.60" y1="365.50" x2="215.20" y2="365.50" stroke="#111" stroke-width="0.8"/>
<line x1="213.60" y1="363.50" x2="215.20" y2="363.50" stroke="#111" stroke-width="0.8"/>
<line x1="213.60" y1="360.50" x2="215.20" y2="360.50" stroke="#111" stroke-width="0.8"/>
<line x1="213.60" y1="358.50" x2="215.20" y2="358.50" stroke="#111" stroke-width="0.8"/>
<line x1="213.60" y1="353.50" x2="215.20" y2="353.50" stroke="#111" stroke-width="0.8"/>
<line x1="213.60" y1="351.50" x2="215.20" y2="351.50" stroke="#111" stroke-width="0.8"/>
<line x1="213.60" y1="348.50" x2="215.20" y2="348.50" stroke="#111" stroke-width="0.8"/>
<line x1="213.60" y1="346.50" x2="215.20" y2="346.50" stroke="#111" stroke-width="0.8"/>
<line x1="213.60" y1="341.50" x2="215.20" y2="341.50" stroke="#111" stroke-width="0.8"/>
<line x1="213.60" y1="339.50" x2="215.20" y2="339.50" stroke="#111" stroke-width="0.8"/>
<line x1="213.60" y1="337.50" x2="215.20" y2="337.50" stroke="#111" stroke-width="0.8"/>
<line x1="213.60" y1="334.50" x2="215.20" y2="334.50" stroke="#111" stroke-width="0.8"/>
<line x1="213.60" y1="329.50" x2="215.20" y2="329.50" stroke="#111" stroke-width="0.8"/>
<line x1="213.60" y1="327.50" x2="215.20" y2="327.50" stroke="#111" stroke-width="0.8"/>
<line x1="213.60" y1="325.50" x2="215.20" y2="325.50" stroke="#111" stroke-width="0.8"/>
<line x1="213.60" y1="322.50" x2="215.20" y2="322.50" stroke="#111" stroke-width="0.8"/>
<line x1="213.60" y1="318.50" x2="215.20" y2="318.50" stroke="#111" stroke-width="0.8"/>
<line x1="213.60" y1="315.50" x2="215.20" y2="315.50" stroke="#111" stroke-width="0.8"/>
<line x1="213.60" y1="313.50" x2="215.20" y2="313.50" stroke="#111" stroke-width="0.8"/>
<line x1="213.60" y1="311.50" x2="215.20" y2="311.50" stroke="#111" stroke-width="0.8"/>
<line x1="214.70" y1="368.00" x2="301.30" y2="368.00" stroke="#111" stroke-width="1.4"/>
<line x1="223.50" y1="368.20" x2="223.50" y2="371.50" stroke="#333" stroke-width="0.9"/>
<line x1="237.50" y1="368.20" x2="237.50" y2="371.50" stroke="#333" stroke-width="0.9"/>
<line x1="251.50" y1="368.20" x2="251.50" y2="371.50" stroke="#333" stroke-width="0.9"/>
<line x1="264.50" y1="368.20" x2="264.50" y2="371.50" stroke="#333" stroke-width="0.9"/>
<line x1="278.50" y1="368.20" x2="278.50" y2="371.50" stroke="#333" stroke-width="0.9"/>
<line x1="291.50" y1="368.20" x2="291.50" y2="371.50" stroke="#333" stroke-width="0.9"/>
<text font-size="8.2" text-anchor="middle" dominant-baseline="central" fill="#1e1e1e" stroke="#1e1e1e" stroke-width="0.06" x="0" y="0" transform="translate(184.40 337) rotate(-90) scale(0.7743950039032006 1)" >vWF levels</text>
<text font-size="8.2" text-anchor="middle" dominant-baseline="central" fill="#1e1e1e" stroke="#1e1e1e" stroke-width="0.06" x="0" y="0" transform="translate(193.50 337) rotate(-90) scale(0.810281987339344 1)" >(normalized to control)</text>
<line x1="225.20" y1="322.00" x2="235.60" y2="322.00" stroke="#4a4a4a" stroke-width="1.4"/>
<rect x="229.55" y="318.15" width="1.7" height="1.7" rx="0.3" fill="#333"/>
<polyline points="237.50,317.50 237.50,310.50 266.50,310.50 266.50,348.50" fill="none" stroke="#3a3a3a" stroke-width="1.2"/>
<rect x="251.65" y="306.45" width="1.7" height="1.7" rx="0.3" fill="#333"/>
<line x1="251.30" y1="354.00" x2="264.30" y2="354.00" stroke="#4a4a4a" stroke-width="1.4"/>
<text font-size="6.3" text-anchor="middle" dominant-baseline="central" fill="#2a2a2a" stroke="#2a2a2a" stroke-width="0.16" x="0" y="0" transform="translate(257.70 348.70)" >ns</text>
<line x1="277.60" y1="311.00" x2="292.60" y2="311.00" stroke="#4a4a4a" stroke-width="1.4"/>
<rect x="283.10" y="306.95" width="1.7" height="1.7" rx="0.3" fill="#333"/>
<rect x="286.00" y="306.95" width="1.7" height="1.7" rx="0.3" fill="#333"/>
<circle cx="221.80" cy="362.50" r="2.35" fill="#6aaf3d"/>
<circle cx="224.00" cy="360.80" r="2.35" fill="#6aaf3d"/>
<circle cx="226.50" cy="361.50" r="2.35" fill="#6aaf3d"/>
<circle cx="223.00" cy="363.50" r="2.35" fill="#6aaf3d"/>
<circle cx="226.00" cy="363.20" r="2.35" fill="#6aaf3d"/>
<path d="M237.90,325.09L240.45,329.47L235.35,329.47Z" fill="#1f3f7d"/>
<path d="M237.90,337.29L240.45,341.67L235.35,341.67Z" fill="#1f3f7d"/>
<path d="M236.00,352.29L238.55,356.67L233.45,356.67Z" fill="#1f3f7d"/>
<path d="M238.00,354.09L240.55,358.47L235.45,358.47Z" fill="#1f3f7d"/>
<path d="M236.50,356.89L239.05,361.27L233.95,361.27Z" fill="#1f3f7d"/>
<path d="M240.00,357.09L242.55,361.47L237.45,361.47Z" fill="#1f3f7d"/>
<path d="M238.50,359.09L241.05,363.47L235.95,363.47Z" fill="#1f3f7d"/>
<line x1="233.20" y1="355.50" x2="242.20" y2="355.50" stroke="#505050" stroke-width="0.9"/>
<circle cx="249.50" cy="362.50" r="2.35" fill="#e8901e"/>
<circle cx="252.00" cy="361.50" r="2.35" fill="#e8901e"/>
<circle cx="254.00" cy="362.00" r="2.35" fill="#e8901e"/>
<circle cx="251.50" cy="364.50" r="2.35" fill="#e8901e"/>
<circle cx="252.00" cy="365.80" r="2.35" fill="#e8901e"/>
<path d="M263.00,356.59L265.55,360.97L260.45,360.97Z" fill="#5fa6e2"/>
<path d="M265.20,358.09L267.75,362.47L262.65,362.47Z" fill="#5fa6e2"/>
<path d="M267.50,359.89L270.05,364.27L264.95,364.27Z" fill="#5fa6e2"/>
<path d="M264.00,360.59L266.55,364.97L261.45,364.97Z" fill="#5fa6e2"/>
<path d="M266.50,361.39L269.05,365.77L263.95,365.77Z" fill="#5fa6e2"/>
<line x1="260.50" y1="362.50" x2="264.00" y2="362.50" stroke="#505050" stroke-width="0.9"/>
<circle cx="278.40" cy="358.90" r="2.35" fill="#4a1c63"/>
<circle cx="276.00" cy="361.60" r="2.35" fill="#4a1c63"/>
<circle cx="280.50" cy="362.20" r="2.35" fill="#4a1c63"/>
<circle cx="278.50" cy="364.30" r="2.35" fill="#4a1c63"/>
<path d="M292.10,313.29L294.65,317.67L289.55,317.67Z" fill="#b3122e"/>
<path d="M292.10,318.49L294.65,322.87L289.55,322.87Z" fill="#b3122e"/>
<path d="M294.30,329.49L296.85,333.87L291.75,333.87Z" fill="#b3122e"/>
<path d="M290.30,332.39L292.85,336.77L287.75,336.77Z" fill="#b3122e"/>
<path d="M294.30,348.79L296.85,353.17L291.75,353.17Z" fill="#b3122e"/>
<path d="M290.30,352.09L292.85,356.47L287.75,356.47Z" fill="#b3122e"/>
<line x1="288.20" y1="332.50" x2="292.00" y2="332.50" stroke="#505050" stroke-width="0.9"/>
<text font-size="6.5" text-anchor="end" dominant-baseline="central" fill="#1a1a1a" stroke="#1a1a1a" stroke-width="0.13" x="0" y="0" transform="translate(215.30 376.60) scale(0.95 1)" >FVIIa</text>
<line x1="222.60" y1="377.50" x2="224.40" y2="377.50" stroke="#444" stroke-width="0.8"/>
<line x1="235.90" y1="377.50" x2="238.70" y2="377.50" stroke="#444" stroke-width="0.8"/>
<line x1="237.50" y1="376.20" x2="237.50" y2="379.00" stroke="#444" stroke-width="0.8"/>
<line x1="250.40" y1="377.50" x2="252.20" y2="377.50" stroke="#444" stroke-width="0.8"/>
<line x1="263.20" y1="377.50" x2="266.00" y2="377.50" stroke="#444" stroke-width="0.8"/>
<line x1="264.50" y1="376.20" x2="264.50" y2="379.00" stroke="#444" stroke-width="0.8"/>
<line x1="277.50" y1="377.50" x2="279.30" y2="377.50" stroke="#444" stroke-width="0.8"/>
<line x1="290.40" y1="377.50" x2="293.20" y2="377.50" stroke="#444" stroke-width="0.8"/>
<line x1="291.50" y1="376.20" x2="291.50" y2="379.00" stroke="#444" stroke-width="0.8"/>
<line x1="223.00" y1="384.50" x2="237.80" y2="384.50" stroke="#2e2e2e" stroke-width="1.2"/>
<text font-size="6.5" text-anchor="middle" dominant-baseline="central" fill="#1a1a1a" stroke="#1a1a1a" stroke-width="0.13" x="0" y="0" transform="translate(230.40 390.60) scale(0.91 1)" >WT</text>
<line x1="250.80" y1="384.50" x2="265.10" y2="384.50" stroke="#2e2e2e" stroke-width="1.2"/>
<text font-size="6.5" text-anchor="middle" dominant-baseline="central" fill="#1a1a1a" stroke="#1a1a1a" stroke-width="0.13" x="0" y="0" transform="translate(257.95 390.60) scale(0.86 1)" >EPCR</text>
<text font-size="6.5" text-anchor="middle" dominant-baseline="central" fill="#1a1a1a" stroke="#1a1a1a" stroke-width="0.13" x="0" y="0" transform="translate(257.95 397.80) scale(0.96 1)" >KO</text>
<line x1="277.90" y1="384.50" x2="292.30" y2="384.50" stroke="#2e2e2e" stroke-width="1.2"/>
<text font-size="6.5" text-anchor="middle" dominant-baseline="central" fill="#1a1a1a" stroke="#1a1a1a" stroke-width="0.13" x="0" y="0" transform="translate(285.10 390.60) scale(0.86 1)" >EPCR</text>
<text font-size="6.5" text-anchor="middle" dominant-baseline="central" fill="#1a1a1a" stroke="#1a1a1a" stroke-width="0.13" x="0" y="0" transform="translate(285.10 397.80) scale(0.93 1)" >OX</text>
<text font-size="11.6" text-anchor="start" dominant-baseline="central" fill="#000" stroke="#000" stroke-width="0.55" font-weight="bold" x="0" y="0" transform="translate(327.65 291.80)" >H</text>
<line x1="375.00" y1="368.90" x2="375.00" y2="303.80" stroke="#111" stroke-width="1.5"/>
<line x1="371.90" y1="368.50" x2="375.20" y2="368.50" stroke="#111" stroke-width="1.0"/>
<text font-size="6.5" text-anchor="end" dominant-baseline="central" fill="#1a1a1a" stroke="#1a1a1a" stroke-width="0.13" x="0" y="0" transform="translate(369.20 368.60)" >0.0</text>
<line x1="371.90" y1="355.50" x2="375.20" y2="355.50" stroke="#111" stroke-width="1.0"/>
<text font-size="6.5" text-anchor="end" dominant-baseline="central" fill="#1a1a1a" stroke="#1a1a1a" stroke-width="0.13" x="0" y="0" transform="translate(369.20 356.22)" >0.5</text>
<line x1="371.90" y1="343.50" x2="375.20" y2="343.50" stroke="#111" stroke-width="1.0"/>
<text font-size="6.5" text-anchor="end" dominant-baseline="central" fill="#1a1a1a" stroke="#1a1a1a" stroke-width="0.13" x="0" y="0" transform="translate(369.20 343.84)" >1.0</text>
<line x1="371.90" y1="331.50" x2="375.20" y2="331.50" stroke="#111" stroke-width="1.0"/>
<text font-size="6.5" text-anchor="end" dominant-baseline="central" fill="#1a1a1a" stroke="#1a1a1a" stroke-width="0.13" x="0" y="0" transform="translate(369.20 331.46)" >1.5</text>
<line x1="371.90" y1="318.50" x2="375.20" y2="318.50" stroke="#111" stroke-width="1.0"/>
<text font-size="6.5" text-anchor="end" dominant-baseline="central" fill="#1a1a1a" stroke="#1a1a1a" stroke-width="0.13" x="0" y="0" transform="translate(369.20 319.08)" >2.0</text>
<line x1="371.90" y1="306.50" x2="375.20" y2="306.50" stroke="#111" stroke-width="1.0"/>
<text font-size="6.5" text-anchor="end" dominant-baseline="central" fill="#1a1a1a" stroke="#1a1a1a" stroke-width="0.13" x="0" y="0" transform="translate(369.20 306.70)" >2.5</text>
<line x1="373.60" y1="365.50" x2="375.20" y2="365.50" stroke="#111" stroke-width="0.8"/>
<line x1="373.60" y1="363.50" x2="375.20" y2="363.50" stroke="#111" stroke-width="0.8"/>
<line x1="373.60" y1="360.50" x2="375.20" y2="360.50" stroke="#111" stroke-width="0.8"/>
<line x1="373.60" y1="358.50" x2="375.20" y2="358.50" stroke="#111" stroke-width="0.8"/>
<line x1="373.60" y1="353.50" x2="375.20" y2="353.50" stroke="#111" stroke-width="0.8"/>
<line x1="373.60" y1="350.50" x2="375.20" y2="350.50" stroke="#111" stroke-width="0.8"/>
<line x1="373.60" y1="348.50" x2="375.20" y2="348.50" stroke="#111" stroke-width="0.8"/>
<line x1="373.60" y1="345.50" x2="375.20" y2="345.50" stroke="#111" stroke-width="0.8"/>
<line x1="373.60" y1="340.50" x2="375.20" y2="340.50" stroke="#111" stroke-width="0.8"/>
<line x1="373.60" y1="338.50" x2="375.20" y2="338.50" stroke="#111" stroke-width="0.8"/>
<line x1="373.60" y1="336.50" x2="375.20" y2="336.50" stroke="#111" stroke-width="0.8"/>
<line x1="373.60" y1="333.50" x2="375.20" y2="333.50" stroke="#111" stroke-width="0.8"/>
<line x1="373.60" y1="328.50" x2="375.20" y2="328.50" stroke="#111" stroke-width="0.8"/>
<line x1="373.60" y1="326.50" x2="375.20" y2="326.50" stroke="#111" stroke-width="0.8"/>
<line x1="373.60" y1="323.50" x2="375.20" y2="323.50" stroke="#111" stroke-width="0.8"/>
<line x1="373.60" y1="321.50" x2="375.20" y2="321.50" stroke="#111" stroke-width="0.8"/>
<line x1="373.60" y1="316.50" x2="375.20" y2="316.50" stroke="#111" stroke-width="0.8"/>
<line x1="373.60" y1="313.50" x2="375.20" y2="313.50" stroke="#111" stroke-width="0.8"/>
<line x1="373.60" y1="311.50" x2="375.20" y2="311.50" stroke="#111" stroke-width="0.8"/>
<line x1="373.60" y1="308.50" x2="375.20" y2="308.50" stroke="#111" stroke-width="0.8"/>
<line x1="374.70" y1="368.00" x2="462.50" y2="368.00" stroke="#111" stroke-width="1.4"/>
<line x1="384.50" y1="368.40" x2="384.50" y2="371.70" stroke="#333" stroke-width="0.9"/>
<line x1="397.50" y1="368.40" x2="397.50" y2="371.70" stroke="#333" stroke-width="0.9"/>
<line x1="411.50" y1="368.40" x2="411.50" y2="371.70" stroke="#333" stroke-width="0.9"/>
<line x1="425.50" y1="368.40" x2="425.50" y2="371.70" stroke="#333" stroke-width="0.9"/>
<line x1="439.50" y1="368.40" x2="439.50" y2="371.70" stroke="#333" stroke-width="0.9"/>
<line x1="453.50" y1="368.40" x2="453.50" y2="371.70" stroke="#333" stroke-width="0.9"/>
<text font-size="8.2" text-anchor="middle" dominant-baseline="central" fill="#1e1e1e" stroke="#1e1e1e" stroke-width="0.06" x="0" y="0" transform="translate(343.70 337) rotate(-90) scale(0.7598693974473137 1)" >TER119 levels</text>
<text font-size="8.2" text-anchor="middle" dominant-baseline="central" fill="#1e1e1e" stroke="#1e1e1e" stroke-width="0.06" x="0" y="0" transform="translate(353.50 336) rotate(-90) scale(0.8286974870516017 1)" >(normalized to control)</text>
<line x1="383.50" y1="332.00" x2="398.50" y2="332.00" stroke="#4a4a4a" stroke-width="1.4"/>
<text font-size="6.3" text-anchor="middle" dominant-baseline="central" fill="#2a2a2a" stroke="#2a2a2a" stroke-width="0.16" x="0" y="0" transform="translate(390.70 326.00)" >ns</text>
<polyline points="401.50,331.50 401.50,298.50 430.50,298.50 430.50,314.50" fill="none" stroke="#3a3a3a" stroke-width="1.2"/>
<text font-size="6.3" text-anchor="middle" dominant-baseline="central" fill="#2a2a2a" stroke="#2a2a2a" stroke-width="0.16" x="0" y="0" transform="translate(415.80 293.50)" >ns</text>
<line x1="411.40" y1="314.00" x2="424.40" y2="314.00" stroke="#4a4a4a" stroke-width="1.4"/>
<text font-size="6.3" text-anchor="middle" dominant-baseline="central" fill="#2a2a2a" stroke="#2a2a2a" stroke-width="0.16" x="0" y="0" transform="translate(417.80 308.60)" >ns</text>
<line x1="438.60" y1="315.00" x2="453.80" y2="315.00" stroke="#4a4a4a" stroke-width="1.4"/>
<text font-size="6.3" text-anchor="middle" dominant-baseline="central" fill="#2a2a2a" stroke="#2a2a2a" stroke-width="0.16" x="0" y="0" transform="translate(446.00 309.60)" >ns</text>
<circle cx="381.50" cy="338.60" r="2.35" fill="#6aaf3d"/>
<circle cx="385.50" cy="337.50" r="2.35" fill="#6aaf3d"/>
<circle cx="383.00" cy="341.30" r="2.35" fill="#6aaf3d"/>
<circle cx="381.50" cy="344.00" r="2.35" fill="#6aaf3d"/>
<circle cx="386.00" cy="343.80" r="2.35" fill="#6aaf3d"/>
<circle cx="384.00" cy="344.20" r="2.35" fill="#6aaf3d"/>
<path d="M397.50,335.69L400.05,340.07L394.95,340.07Z" fill="#1f3f7d"/>
<path d="M396.00,339.39L398.55,343.77L393.45,343.77Z" fill="#1f3f7d"/>
<path d="M398.50,342.09L401.05,346.47L395.95,346.47Z" fill="#1f3f7d"/>
<path d="M397.50,349.09L400.05,353.47L394.95,353.47Z" fill="#1f3f7d"/>
<path d="M395.50,353.39L398.05,357.77L392.95,357.77Z" fill="#1f3f7d"/>
<path d="M400.00,352.89L402.55,357.27L397.45,357.27Z" fill="#1f3f7d"/>
<line x1="393.80" y1="348.50" x2="402.40" y2="348.50" stroke="#505050" stroke-width="0.9"/>
<circle cx="411.50" cy="319.20" r="2.35" fill="#e8901e"/>
<circle cx="411.50" cy="326.20" r="2.35" fill="#e8901e"/>
<circle cx="409.00" cy="342.90" r="2.35" fill="#e8901e"/>
<circle cx="411.50" cy="341.80" r="2.35" fill="#e8901e"/>
<circle cx="414.00" cy="343.50" r="2.35" fill="#e8901e"/>
<circle cx="412.50" cy="344.20" r="2.35" fill="#e8901e"/>
<circle cx="410.00" cy="344.00" r="2.35" fill="#e8901e"/>
<path d="M427.50,324.89L430.05,329.27L424.95,329.27Z" fill="#5fa6e2"/>
<path d="M425.00,327.09L427.55,331.47L422.45,331.47Z" fill="#5fa6e2"/>
<path d="M425.50,338.89L428.05,343.27L422.95,343.27Z" fill="#5fa6e2"/>
<path d="M426.50,342.69L429.05,347.07L423.95,347.07Z" fill="#5fa6e2"/>
<path d="M428.00,344.79L430.55,349.17L425.45,349.17Z" fill="#5fa6e2"/>
<path d="M424.00,347.49L426.55,351.87L421.45,351.87Z" fill="#5fa6e2"/>
<line x1="421.20" y1="343.50" x2="429.60" y2="343.50" stroke="#505050" stroke-width="0.9"/>
<circle cx="439.50" cy="329.50" r="2.35" fill="#4a1c63"/>
<circle cx="441.80" cy="337.30" r="2.35" fill="#4a1c63"/>
<circle cx="437.00" cy="340.00" r="2.35" fill="#4a1c63"/>
<circle cx="439.50" cy="343.50" r="2.35" fill="#4a1c63"/>
<circle cx="442.50" cy="343.50" r="2.35" fill="#4a1c63"/>
<circle cx="437.00" cy="346.00" r="2.35" fill="#4a1c63"/>
<path d="M453.20,319.09L455.75,323.47L450.65,323.47Z" fill="#b3122e"/>
<path d="M453.20,330.79L455.75,335.17L450.65,335.17Z" fill="#b3122e"/>
<path d="M453.20,339.19L455.75,343.57L450.65,343.57Z" fill="#b3122e"/>
<path d="M452.50,345.69L455.05,350.07L449.95,350.07Z" fill="#b3122e"/>
<path d="M455.50,346.79L458.05,351.17L452.95,351.17Z" fill="#b3122e"/>
<path d="M451.00,349.79L453.55,354.17L448.45,354.17Z" fill="#b3122e"/>
<line x1="449.00" y1="344.50" x2="457.60" y2="344.50" stroke="#505050" stroke-width="0.9"/>
<text font-size="6.5" text-anchor="end" dominant-baseline="central" fill="#1a1a1a" stroke="#1a1a1a" stroke-width="0.13" x="0" y="0" transform="translate(374.30 376.60) scale(0.95 1)" >FVIIa</text>
<line x1="383.10" y1="377.50" x2="384.90" y2="377.50" stroke="#444" stroke-width="0.8"/>
<line x1="396.20" y1="377.50" x2="399.00" y2="377.50" stroke="#444" stroke-width="0.8"/>
<line x1="397.50" y1="376.20" x2="397.50" y2="379.00" stroke="#444" stroke-width="0.8"/>
<line x1="410.50" y1="377.50" x2="412.30" y2="377.50" stroke="#444" stroke-width="0.8"/>
<line x1="424.40" y1="377.50" x2="427.20" y2="377.50" stroke="#444" stroke-width="0.8"/>
<line x1="425.50" y1="376.20" x2="425.50" y2="379.00" stroke="#444" stroke-width="0.8"/>
<line x1="438.70" y1="377.50" x2="440.50" y2="377.50" stroke="#444" stroke-width="0.8"/>
<line x1="452.10" y1="377.50" x2="454.90" y2="377.50" stroke="#444" stroke-width="0.8"/>
<line x1="453.50" y1="376.20" x2="453.50" y2="379.00" stroke="#444" stroke-width="0.8"/>
<line x1="383.50" y1="384.50" x2="398.10" y2="384.50" stroke="#2e2e2e" stroke-width="1.2"/>
<text font-size="6.5" text-anchor="middle" dominant-baseline="central" fill="#1a1a1a" stroke="#1a1a1a" stroke-width="0.13" x="0" y="0" transform="translate(390.80 390.60) scale(0.91 1)" >WT</text>
<line x1="410.90" y1="384.50" x2="426.30" y2="384.50" stroke="#2e2e2e" stroke-width="1.2"/>
<text font-size="6.5" text-anchor="middle" dominant-baseline="central" fill="#1a1a1a" stroke="#1a1a1a" stroke-width="0.13" x="0" y="0" transform="translate(418.60 390.60) scale(0.86 1)" >EPCR</text>
<text font-size="6.5" text-anchor="middle" dominant-baseline="central" fill="#1a1a1a" stroke="#1a1a1a" stroke-width="0.13" x="0" y="0" transform="translate(418.60 397.80) scale(0.96 1)" >KO</text>
<line x1="439.10" y1="384.50" x2="454.00" y2="384.50" stroke="#2e2e2e" stroke-width="1.2"/>
<text font-size="6.5" text-anchor="middle" dominant-baseline="central" fill="#1a1a1a" stroke="#1a1a1a" stroke-width="0.13" x="0" y="0" transform="translate(446.55 390.60) scale(0.86 1)" >EPCR</text>
<text font-size="6.5" text-anchor="middle" dominant-baseline="central" fill="#1a1a1a" stroke="#1a1a1a" stroke-width="0.13" x="0" y="0" transform="translate(446.55 397.80) scale(0.93 1)" >OX</text>
<text font-size="11.6" text-anchor="start" dominant-baseline="central" fill="#000" stroke="#000" stroke-width="0.55" font-weight="bold" x="0" y="0" transform="translate(13.60 417.65)" >I</text>
<line x1="43.00" y1="498.70" x2="43.00" y2="429.20" stroke="#111" stroke-width="1.5"/>
<line x1="40.10" y1="498.50" x2="43.40" y2="498.50" stroke="#111" stroke-width="1.0"/>
<text font-size="6.5" text-anchor="end" dominant-baseline="central" fill="#1a1a1a" stroke="#1a1a1a" stroke-width="0.13" x="0" y="0" transform="translate(37.40 498.40)" >0</text>
<line x1="40.10" y1="481.50" x2="43.40" y2="481.50" stroke="#111" stroke-width="1.0"/>
<text font-size="6.5" text-anchor="end" dominant-baseline="central" fill="#1a1a1a" stroke="#1a1a1a" stroke-width="0.13" x="0" y="0" transform="translate(37.40 481.83)" >2</text>
<line x1="40.10" y1="464.50" x2="43.40" y2="464.50" stroke="#111" stroke-width="1.0"/>
<text font-size="6.5" text-anchor="end" dominant-baseline="central" fill="#1a1a1a" stroke="#1a1a1a" stroke-width="0.13" x="0" y="0" transform="translate(37.40 465.25)" >4</text>
<line x1="40.10" y1="448.50" x2="43.40" y2="448.50" stroke="#111" stroke-width="1.0"/>
<text font-size="6.5" text-anchor="end" dominant-baseline="central" fill="#1a1a1a" stroke="#1a1a1a" stroke-width="0.13" x="0" y="0" transform="translate(37.40 448.68)" >6</text>
<line x1="40.10" y1="431.50" x2="43.40" y2="431.50" stroke="#111" stroke-width="1.0"/>
<text font-size="6.5" text-anchor="end" dominant-baseline="central" fill="#1a1a1a" stroke="#1a1a1a" stroke-width="0.13" x="0" y="0" transform="translate(37.40 432.10)" >8</text>
<line x1="41.80" y1="494.50" x2="43.40" y2="494.50" stroke="#111" stroke-width="0.8"/>
<line x1="41.80" y1="491.50" x2="43.40" y2="491.50" stroke="#111" stroke-width="0.8"/>
<line x1="41.80" y1="488.50" x2="43.40" y2="488.50" stroke="#111" stroke-width="0.8"/>
<line x1="41.80" y1="484.50" x2="43.40" y2="484.50" stroke="#111" stroke-width="0.8"/>
<line x1="41.80" y1="478.50" x2="43.40" y2="478.50" stroke="#111" stroke-width="0.8"/>
<line x1="41.80" y1="474.50" x2="43.40" y2="474.50" stroke="#111" stroke-width="0.8"/>
<line x1="41.80" y1="471.50" x2="43.40" y2="471.50" stroke="#111" stroke-width="0.8"/>
<line x1="41.80" y1="468.50" x2="43.40" y2="468.50" stroke="#111" stroke-width="0.8"/>
<line x1="41.80" y1="461.50" x2="43.40" y2="461.50" stroke="#111" stroke-width="0.8"/>
<line x1="41.80" y1="458.50" x2="43.40" y2="458.50" stroke="#111" stroke-width="0.8"/>
<line x1="41.80" y1="454.50" x2="43.40" y2="454.50" stroke="#111" stroke-width="0.8"/>
<line x1="41.80" y1="451.50" x2="43.40" y2="451.50" stroke="#111" stroke-width="0.8"/>
<line x1="41.80" y1="444.50" x2="43.40" y2="444.50" stroke="#111" stroke-width="0.8"/>
<line x1="41.80" y1="441.50" x2="43.40" y2="441.50" stroke="#111" stroke-width="0.8"/>
<line x1="41.80" y1="438.50" x2="43.40" y2="438.50" stroke="#111" stroke-width="0.8"/>
<line x1="41.80" y1="435.50" x2="43.40" y2="435.50" stroke="#111" stroke-width="0.8"/>
<line x1="42.90" y1="498.00" x2="143.80" y2="498.00" stroke="#111" stroke-width="1.4"/>
<line x1="52.50" y1="497.90" x2="52.50" y2="501.20" stroke="#333" stroke-width="0.9"/>
<line x1="64.50" y1="497.90" x2="64.50" y2="501.20" stroke="#333" stroke-width="0.9"/>
<line x1="76.50" y1="497.90" x2="76.50" y2="501.20" stroke="#333" stroke-width="0.9"/>
<line x1="88.50" y1="497.90" x2="88.50" y2="501.20" stroke="#333" stroke-width="0.9"/>
<line x1="100.50" y1="497.90" x2="100.50" y2="501.20" stroke="#333" stroke-width="0.9"/>
<line x1="112.50" y1="497.90" x2="112.50" y2="501.20" stroke="#333" stroke-width="0.9"/>
<line x1="124.50" y1="497.90" x2="124.50" y2="501.20" stroke="#333" stroke-width="0.9"/>
<line x1="136.50" y1="497.90" x2="136.50" y2="501.20" stroke="#333" stroke-width="0.9"/>
<text font-size="8.2" text-anchor="middle" dominant-baseline="central" fill="#1e1e1e" stroke="#1e1e1e" stroke-width="0.06" x="0" y="0" transform="translate(17.00 464) rotate(-90) scale(0.8029052492571805 1)" >FX activation</text>
<text font-size="8.2" text-anchor="middle" dominant-baseline="central" fill="#1e1e1e" stroke="#1e1e1e" stroke-width="0.06" x="0" y="0" transform="translate(27.50 463) rotate(-90) scale(0.8096385542168675 1)" >(FXa, pM/min)</text>
<polyline points="50.50,472.50 50.50,438.50 100.50,438.50 100.50,442.50" fill="none" stroke="#3a3a3a" stroke-width="1.2"/>
<rect x="69.90" y="434.05" width="1.7" height="1.7" rx="0.3" fill="#333"/>
<rect x="72.80" y="434.05" width="1.7" height="1.7" rx="0.3" fill="#333"/>
<rect x="75.70" y="434.05" width="1.7" height="1.7" rx="0.3" fill="#333"/>
<rect x="78.60" y="434.05" width="1.7" height="1.7" rx="0.3" fill="#333"/>
<line x1="52.90" y1="470.00" x2="89.20" y2="470.00" stroke="#4a4a4a" stroke-width="1.4"/>
<text font-size="6.3" text-anchor="middle" dominant-baseline="central" fill="#2a2a2a" stroke="#2a2a2a" stroke-width="0.16" x="0" y="0" transform="translate(71.50 464.60)" >ns</text>
<line x1="100.60" y1="444.00" x2="115.60" y2="444.00" stroke="#4a4a4a" stroke-width="1.4"/>
<rect x="102.70" y="439.55" width="1.7" height="1.7" rx="0.3" fill="#333"/>
<rect x="105.60" y="439.55" width="1.7" height="1.7" rx="0.3" fill="#333"/>
<rect x="108.50" y="439.55" width="1.7" height="1.7" rx="0.3" fill="#333"/>
<rect x="111.40" y="439.55" width="1.7" height="1.7" rx="0.3" fill="#333"/>
<line x1="124.20" y1="437.00" x2="140.00" y2="437.00" stroke="#4a4a4a" stroke-width="1.4"/>
<text font-size="6.3" text-anchor="middle" dominant-baseline="central" fill="#2a2a2a" stroke="#2a2a2a" stroke-width="0.16" x="0" y="0" transform="translate(131.90 431.50)" >ns</text>
<circle cx="52.00" cy="480.10" r="2.35" fill="#6aaf3d"/>
<circle cx="50.00" cy="482.50" r="2.35" fill="#6aaf3d"/>
<circle cx="54.50" cy="482.00" r="2.35" fill="#6aaf3d"/>
<circle cx="52.50" cy="484.00" r="2.35" fill="#6aaf3d"/>
<circle cx="49.80" cy="484.50" r="2.35" fill="#6aaf3d"/>
<circle cx="55.00" cy="484.50" r="2.35" fill="#6aaf3d"/>
<circle cx="52.50" cy="489.20" r="2.35" fill="#6aaf3d"/>
<line x1="48.50" y1="482.50" x2="57.50" y2="482.50" stroke="#505050" stroke-width="0.9"/>
<circle cx="62.50" cy="477.70" r="2.35" fill="#4a5570"/>
<circle cx="66.50" cy="477.50" r="2.35" fill="#4a5570"/>
<circle cx="62.50" cy="483.50" r="2.35" fill="#4a5570"/>
<circle cx="66.50" cy="483.00" r="2.35" fill="#4a5570"/>
<circle cx="62.50" cy="489.20" r="2.35" fill="#4a5570"/>
<circle cx="66.50" cy="488.50" r="2.35" fill="#4a5570"/>
<line x1="62.00" y1="482.50" x2="67.00" y2="482.50" stroke="#505050" stroke-width="0.9"/>
<circle cx="74.50" cy="477.50" r="2.35" fill="#5fa6e2"/>
<circle cx="78.00" cy="477.50" r="2.35" fill="#5fa6e2"/>
<circle cx="76.50" cy="481.00" r="2.35" fill="#5fa6e2"/>
<circle cx="78.00" cy="484.00" r="2.35" fill="#5fa6e2"/>
<circle cx="74.80" cy="486.50" r="2.35" fill="#5fa6e2"/>
<line x1="72.00" y1="480.50" x2="80.60" y2="480.50" stroke="#505050" stroke-width="0.9"/>
<circle cx="86.00" cy="477.20" r="2.35" fill="#6aaf3d"/>
<circle cx="90.50" cy="477.50" r="2.35" fill="#6aaf3d"/>
<circle cx="88.50" cy="480.50" r="2.35" fill="#6aaf3d"/>
<circle cx="86.00" cy="483.50" r="2.35" fill="#6aaf3d"/>
<circle cx="90.50" cy="483.50" r="2.35" fill="#6aaf3d"/>
<line x1="84.00" y1="479.50" x2="92.50" y2="479.50" stroke="#505050" stroke-width="0.9"/>
<path d="M98.50,446.19L101.05,450.57L95.95,450.57Z" fill="#1f3f7d"/>
<path d="M101.00,448.29L103.55,452.67L98.45,452.67Z" fill="#1f3f7d"/>
<path d="M98.50,450.39L101.05,454.77L95.95,454.77Z" fill="#1f3f7d"/>
<path d="M102.00,450.09L104.55,454.47L99.45,454.47Z" fill="#1f3f7d"/>
<path d="M99.00,454.09L101.55,458.47L96.45,458.47Z" fill="#1f3f7d"/>
<path d="M101.50,454.09L104.05,458.47L98.95,458.47Z" fill="#1f3f7d"/>
<line x1="96.00" y1="453.50" x2="105.00" y2="453.50" stroke="#505050" stroke-width="0.9"/>
<path d="M110.00,478.59L112.55,482.97L107.45,482.97Z" fill="#b3122e"/>
<path d="M112.50,478.09L115.05,482.47L109.95,482.47Z" fill="#b3122e"/>
<path d="M115.00,478.59L117.55,482.97L112.45,482.97Z" fill="#b3122e"/>
<path d="M111.50,480.09L114.05,484.47L108.95,484.47Z" fill="#b3122e"/>
<path d="M114.00,480.09L116.55,484.47L111.45,484.47Z" fill="#b3122e"/>
<path d="M111.50,485.39L114.05,489.77L108.95,489.77Z" fill="#b3122e"/>
<path d="M113.50,486.99L116.05,491.37L110.95,491.37Z" fill="#b3122e"/>
<path d="M110.50,490.69L113.05,495.07L107.95,495.07Z" fill="#b3122e"/>
<line x1="108.30" y1="483.50" x2="116.80" y2="483.50" stroke="#505050" stroke-width="0.9"/>
<path d="M124.20,439.79L126.75,444.17L121.65,444.17Z" fill="#c47420"/>
<path d="M124.20,451.49L126.75,455.87L121.65,455.87Z" fill="#c47420"/>
<path d="M122.50,454.09L125.05,458.47L119.95,458.47Z" fill="#c47420"/>
<path d="M126.00,454.09L128.55,458.47L123.45,458.47Z" fill="#c47420"/>
<path d="M124.20,465.29L126.75,469.67L121.65,469.67Z" fill="#c47420"/>
<line x1="120.00" y1="455.50" x2="129.00" y2="455.50" stroke="#505050" stroke-width="0.9"/>
<path d="M136.40,444.89L138.95,449.27L133.85,449.27Z" fill="#5fa6e2"/>
<path d="M135.00,449.39L137.55,453.77L132.45,453.77Z" fill="#5fa6e2"/>
<path d="M138.00,449.09L140.55,453.47L135.45,453.47Z" fill="#5fa6e2"/>
<path d="M136.00,452.59L138.55,456.97L133.45,456.97Z" fill="#5fa6e2"/>
<path d="M134.50,456.29L137.05,460.67L131.95,460.67Z" fill="#5fa6e2"/>
<path d="M138.00,455.59L140.55,459.97L135.45,459.97Z" fill="#5fa6e2"/>
<line x1="132.10" y1="454.50" x2="140.60" y2="454.50" stroke="#505050" stroke-width="0.9"/>
<text font-size="6.5" text-anchor="end" dominant-baseline="central" fill="#1a1a1a" stroke="#1a1a1a" stroke-width="0.13" x="0" y="0" transform="translate(44.40 507.10)" >Annexin V</text>
<text font-size="6.5" text-anchor="end" dominant-baseline="central" fill="#1a1a1a" stroke="#1a1a1a" stroke-width="0.13" x="0" y="0" transform="translate(44.40 514.60)" >Con IgG</text>
<text font-size="6.5" text-anchor="end" dominant-baseline="central" fill="#1a1a1a" stroke="#1a1a1a" stroke-width="0.13" x="0" y="0" transform="translate(44.40 522.40)" >αTF</text>
<line x1="52.00" y1="508.50" x2="53.80" y2="508.50" stroke="#444" stroke-width="0.8"/>
<line x1="63.40" y1="508.50" x2="66.20" y2="508.50" stroke="#444" stroke-width="0.8"/>
<line x1="64.50" y1="506.70" x2="64.50" y2="509.50" stroke="#444" stroke-width="0.8"/>
<line x1="75.80" y1="508.50" x2="77.60" y2="508.50" stroke="#444" stroke-width="0.8"/>
<line x1="87.70" y1="508.50" x2="89.50" y2="508.50" stroke="#444" stroke-width="0.8"/>
<line x1="99.60" y1="508.50" x2="101.40" y2="508.50" stroke="#444" stroke-width="0.8"/>
<line x1="111.00" y1="508.50" x2="113.80" y2="508.50" stroke="#444" stroke-width="0.8"/>
<line x1="112.50" y1="506.70" x2="112.50" y2="509.50" stroke="#444" stroke-width="0.8"/>
<line x1="123.40" y1="508.50" x2="125.20" y2="508.50" stroke="#444" stroke-width="0.8"/>
<line x1="135.30" y1="508.50" x2="137.10" y2="508.50" stroke="#444" stroke-width="0.8"/>
<line x1="52.00" y1="515.50" x2="53.80" y2="515.50" stroke="#444" stroke-width="0.8"/>
<line x1="63.90" y1="515.50" x2="65.70" y2="515.50" stroke="#444" stroke-width="0.8"/>
<line x1="75.30" y1="515.50" x2="78.10" y2="515.50" stroke="#444" stroke-width="0.8"/>
<line x1="76.50" y1="514.00" x2="76.50" y2="516.80" stroke="#444" stroke-width="0.8"/>
<line x1="87.70" y1="515.50" x2="89.50" y2="515.50" stroke="#444" stroke-width="0.8"/>
<line x1="99.60" y1="515.50" x2="101.40" y2="515.50" stroke="#444" stroke-width="0.8"/>
<line x1="111.50" y1="515.50" x2="113.30" y2="515.50" stroke="#444" stroke-width="0.8"/>
<line x1="122.90" y1="515.50" x2="125.70" y2="515.50" stroke="#444" stroke-width="0.8"/>
<line x1="124.50" y1="514.00" x2="124.50" y2="516.80" stroke="#444" stroke-width="0.8"/>
<line x1="135.30" y1="515.50" x2="137.10" y2="515.50" stroke="#444" stroke-width="0.8"/>
<line x1="52.00" y1="522.50" x2="53.80" y2="522.50" stroke="#444" stroke-width="0.8"/>
<line x1="63.90" y1="522.50" x2="65.70" y2="522.50" stroke="#444" stroke-width="0.8"/>
<line x1="75.80" y1="522.50" x2="77.60" y2="522.50" stroke="#444" stroke-width="0.8"/>
<line x1="87.20" y1="522.50" x2="90.00" y2="522.50" stroke="#444" stroke-width="0.8"/>
<line x1="88.50" y1="521.50" x2="88.50" y2="524.30" stroke="#444" stroke-width="0.8"/>
<line x1="99.60" y1="522.50" x2="101.40" y2="522.50" stroke="#444" stroke-width="0.8"/>
<line x1="111.50" y1="522.50" x2="113.30" y2="522.50" stroke="#444" stroke-width="0.8"/>
<line x1="123.40" y1="522.50" x2="125.20" y2="522.50" stroke="#444" stroke-width="0.8"/>
<line x1="134.80" y1="522.50" x2="137.60" y2="522.50" stroke="#444" stroke-width="0.8"/>
<line x1="136.50" y1="521.50" x2="136.50" y2="524.30" stroke="#444" stroke-width="0.8"/>
<line x1="52.90" y1="530.50" x2="89.20" y2="530.50" stroke="#2e2e2e" stroke-width="1.2"/>
<line x1="99.00" y1="530.50" x2="136.10" y2="530.50" stroke="#2e2e2e" stroke-width="1.2"/>
<text font-size="6.5" text-anchor="middle" dominant-baseline="central" fill="#1a1a1a" stroke="#1a1a1a" stroke-width="0.13" x="0" y="0" transform="translate(71.40 536.40) scale(0.95 1)" >Con EVs</text>
<text font-size="6.5" text-anchor="middle" dominant-baseline="central" fill="#1a1a1a" stroke="#1a1a1a" stroke-width="0.13" x="0" y="0" transform="translate(117.80 536.40) scale(0.95 1)" >FVIIa EVs</text>
<text font-size="11.6" text-anchor="start" dominant-baseline="central" fill="#000" stroke="#000" stroke-width="0.55" font-weight="bold" x="0" y="0" transform="translate(175.60 418.00)" >J</text>
<line x1="215.00" y1="498.70" x2="215.00" y2="428.00" stroke="#111" stroke-width="1.5"/>
<line x1="212.10" y1="498.50" x2="215.40" y2="498.50" stroke="#111" stroke-width="1.0"/>
<text font-size="6.5" text-anchor="end" dominant-baseline="central" fill="#1a1a1a" stroke="#1a1a1a" stroke-width="0.13" x="0" y="0" transform="translate(209.40 498.40)" >0.00</text>
<line x1="212.10" y1="481.50" x2="215.40" y2="481.50" stroke="#111" stroke-width="1.0"/>
<text font-size="6.5" text-anchor="end" dominant-baseline="central" fill="#1a1a1a" stroke="#1a1a1a" stroke-width="0.13" x="0" y="0" transform="translate(209.40 481.53)" >0.02</text>
<line x1="212.10" y1="464.50" x2="215.40" y2="464.50" stroke="#111" stroke-width="1.0"/>
<text font-size="6.5" text-anchor="end" dominant-baseline="central" fill="#1a1a1a" stroke="#1a1a1a" stroke-width="0.13" x="0" y="0" transform="translate(209.40 464.65)" >0.04</text>
<line x1="212.10" y1="447.50" x2="215.40" y2="447.50" stroke="#111" stroke-width="1.0"/>
<text font-size="6.5" text-anchor="end" dominant-baseline="central" fill="#1a1a1a" stroke="#1a1a1a" stroke-width="0.13" x="0" y="0" transform="translate(209.40 447.78)" >0.06</text>
<line x1="212.10" y1="430.50" x2="215.40" y2="430.50" stroke="#111" stroke-width="1.0"/>
<text font-size="6.5" text-anchor="end" dominant-baseline="central" fill="#1a1a1a" stroke="#1a1a1a" stroke-width="0.13" x="0" y="0" transform="translate(209.40 430.90)" >0.08</text>
<line x1="213.80" y1="494.50" x2="215.40" y2="494.50" stroke="#111" stroke-width="0.8"/>
<line x1="213.80" y1="491.50" x2="215.40" y2="491.50" stroke="#111" stroke-width="0.8"/>
<line x1="213.80" y1="487.50" x2="215.40" y2="487.50" stroke="#111" stroke-width="0.8"/>
<line x1="213.80" y1="484.50" x2="215.40" y2="484.50" stroke="#111" stroke-width="0.8"/>
<line x1="213.80" y1="477.50" x2="215.40" y2="477.50" stroke="#111" stroke-width="0.8"/>
<line x1="213.80" y1="474.50" x2="215.40" y2="474.50" stroke="#111" stroke-width="0.8"/>
<line x1="213.80" y1="471.50" x2="215.40" y2="471.50" stroke="#111" stroke-width="0.8"/>
<line x1="213.80" y1="467.50" x2="215.40" y2="467.50" stroke="#111" stroke-width="0.8"/>
<line x1="213.80" y1="460.50" x2="215.40" y2="460.50" stroke="#111" stroke-width="0.8"/>
<line x1="213.80" y1="457.50" x2="215.40" y2="457.50" stroke="#111" stroke-width="0.8"/>
<line x1="213.80" y1="454.50" x2="215.40" y2="454.50" stroke="#111" stroke-width="0.8"/>
<line x1="213.80" y1="450.50" x2="215.40" y2="450.50" stroke="#111" stroke-width="0.8"/>
<line x1="213.80" y1="444.50" x2="215.40" y2="444.50" stroke="#111" stroke-width="0.8"/>
<line x1="213.80" y1="440.50" x2="215.40" y2="440.50" stroke="#111" stroke-width="0.8"/>
<line x1="213.80" y1="437.50" x2="215.40" y2="437.50" stroke="#111" stroke-width="0.8"/>
<line x1="213.80" y1="433.50" x2="215.40" y2="433.50" stroke="#111" stroke-width="0.8"/>
<line x1="214.90" y1="498.00" x2="281.30" y2="498.00" stroke="#111" stroke-width="1.4"/>
<line x1="225.50" y1="497.80" x2="225.50" y2="501.10" stroke="#333" stroke-width="0.9"/>
<line x1="240.50" y1="497.80" x2="240.50" y2="501.10" stroke="#333" stroke-width="0.9"/>
<line x1="255.50" y1="497.80" x2="255.50" y2="501.10" stroke="#333" stroke-width="0.9"/>
<line x1="271.50" y1="497.80" x2="271.50" y2="501.10" stroke="#333" stroke-width="0.9"/>
<text font-size="8.2" text-anchor="middle" dominant-baseline="central" fill="#1e1e1e" stroke="#1e1e1e" stroke-width="0.06" x="0" y="0" transform="translate(178.50 463) rotate(-90) scale(0.8346758726505562 1)" >Prothrombin activation</text>
<text font-size="8.2" text-anchor="middle" dominant-baseline="central" fill="#1e1e1e" stroke="#1e1e1e" stroke-width="0.06" x="0" y="0" transform="translate(188.80 464) rotate(-90) scale(0.8563000421407501 1)" >(thrombin, U/ml/min)</text>
<polyline points="222.50,463.50 222.50,429.50 252.50,429.50 252.50,434.50" fill="none" stroke="#3a3a3a" stroke-width="1.2"/>
<rect x="232.10" y="424.95" width="1.7" height="1.7" rx="0.3" fill="#333"/>
<rect x="235.00" y="424.95" width="1.7" height="1.7" rx="0.3" fill="#333"/>
<rect x="237.90" y="424.95" width="1.7" height="1.7" rx="0.3" fill="#333"/>
<rect x="240.80" y="424.95" width="1.7" height="1.7" rx="0.3" fill="#333"/>
<line x1="255.10" y1="434.00" x2="274.20" y2="434.00" stroke="#4a4a4a" stroke-width="1.4"/>
<rect x="259.10" y="429.15" width="1.7" height="1.7" rx="0.3" fill="#333"/>
<rect x="262.00" y="429.15" width="1.7" height="1.7" rx="0.3" fill="#333"/>
<rect x="264.90" y="429.15" width="1.7" height="1.7" rx="0.3" fill="#333"/>
<rect x="267.80" y="429.15" width="1.7" height="1.7" rx="0.3" fill="#333"/>
<line x1="225.80" y1="463.00" x2="240.80" y2="463.00" stroke="#4a4a4a" stroke-width="1.4"/>
<text font-size="6.3" text-anchor="middle" dominant-baseline="central" fill="#2a2a2a" stroke="#2a2a2a" stroke-width="0.16" x="0" y="0" transform="translate(233.40 457.80)" >ns</text>
<circle cx="222.80" cy="466.40" r="2.35" fill="#6aaf3d"/>
<circle cx="228.30" cy="469.80" r="2.35" fill="#6aaf3d"/>
<circle cx="225.50" cy="471.90" r="2.35" fill="#6aaf3d"/>
<circle cx="222.80" cy="474.50" r="2.35" fill="#6aaf3d"/>
<circle cx="222.80" cy="478.70" r="2.35" fill="#6aaf3d"/>
<circle cx="228.30" cy="478.70" r="2.35" fill="#6aaf3d"/>
<line x1="221.00" y1="474.50" x2="229.90" y2="474.50" stroke="#505050" stroke-width="0.9"/>
<circle cx="240.60" cy="470.00" r="2.35" fill="#4a5570"/>
<circle cx="238.00" cy="475.70" r="2.35" fill="#4a5570"/>
<circle cx="243.50" cy="476.30" r="2.35" fill="#4a5570"/>
<circle cx="238.00" cy="479.90" r="2.35" fill="#4a5570"/>
<circle cx="243.50" cy="483.80" r="2.35" fill="#4a5570"/>
<circle cx="238.00" cy="485.50" r="2.35" fill="#4a5570"/>
<line x1="238.30" y1="478.50" x2="243.60" y2="478.50" stroke="#505050" stroke-width="0.9"/>
<path d="M253.00,436.99L255.55,441.37L250.45,441.37Z" fill="#1f3f7d"/>
<path d="M256.00,439.29L258.55,443.67L253.45,443.67Z" fill="#1f3f7d"/>
<path d="M258.50,444.09L261.05,448.47L255.95,448.47Z" fill="#1f3f7d"/>
<path d="M256.00,448.29L258.55,452.67L253.45,452.67Z" fill="#1f3f7d"/>
<path d="M253.00,451.89L255.55,456.27L250.45,456.27Z" fill="#1f3f7d"/>
<path d="M259.00,451.89L261.55,456.27L256.45,456.27Z" fill="#1f3f7d"/>
<line x1="252.00" y1="448.50" x2="260.30" y2="448.50" stroke="#505050" stroke-width="0.9"/>
<path d="M270.20,474.59L272.75,478.97L267.65,478.97Z" fill="#b3122e"/>
<path d="M273.00,474.59L275.55,478.97L270.45,478.97Z" fill="#b3122e"/>
<path d="M268.50,480.59L271.05,484.97L265.95,484.97Z" fill="#b3122e"/>
<path d="M271.50,480.59L274.05,484.97L268.95,484.97Z" fill="#b3122e"/>
<path d="M274.50,480.59L277.05,484.97L271.95,484.97Z" fill="#b3122e"/>
<path d="M271.60,493.59L274.15,497.97L269.05,497.97Z" fill="#b3122e"/>
<text font-size="6.5" text-anchor="end" dominant-baseline="central" fill="#1a1a1a" stroke="#1a1a1a" stroke-width="0.13" x="0" y="0" transform="translate(214.20 507.10)" >Annexin V</text>
<line x1="224.40" y1="508.50" x2="226.20" y2="508.50" stroke="#444" stroke-width="0.8"/>
<line x1="239.40" y1="508.50" x2="242.20" y2="508.50" stroke="#444" stroke-width="0.8"/>
<line x1="240.50" y1="506.70" x2="240.50" y2="509.50" stroke="#444" stroke-width="0.8"/>
<line x1="254.90" y1="508.50" x2="256.70" y2="508.50" stroke="#444" stroke-width="0.8"/>
<line x1="270.10" y1="508.50" x2="272.90" y2="508.50" stroke="#444" stroke-width="0.8"/>
<line x1="271.50" y1="506.70" x2="271.50" y2="509.50" stroke="#444" stroke-width="0.8"/>
<line x1="225.20" y1="513.50" x2="239.70" y2="513.50" stroke="#2e2e2e" stroke-width="1.2"/>
<line x1="256.00" y1="513.50" x2="270.00" y2="513.50" stroke="#2e2e2e" stroke-width="1.2"/>
<text font-size="6.5" text-anchor="middle" dominant-baseline="central" fill="#1a1a1a" stroke="#1a1a1a" stroke-width="0.13" x="0" y="0" transform="translate(231.50 520.00) scale(0.95 1)" >Con EVs</text>
<text font-size="6.5" text-anchor="middle" dominant-baseline="central" fill="#1a1a1a" stroke="#1a1a1a" stroke-width="0.13" x="0" y="0" transform="translate(263.00 520.00) scale(0.95 1)" >FVIIa EVs</text>
<rect x="0.6" y="0.6" width="518.8" height="546.8" fill="none" stroke="#000" stroke-width="1.3"/>
</svg>
</body></html>
